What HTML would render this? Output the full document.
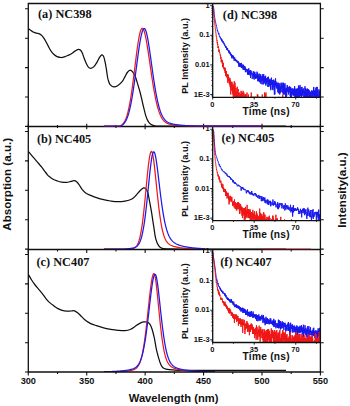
<!DOCTYPE html>
<html><head><meta charset="utf-8"><style>
html,body{margin:0;padding:0;background:#fff;width:350px;height:406px;overflow:hidden;}
svg{display:block;}
</style></head><body>
<svg width="350" height="406" viewBox="0 0 350 406">
<defs>
<clipPath id="clipd"><rect x="212.7" y="3.5" width="107.7" height="93.8"/></clipPath>
<clipPath id="clipe"><rect x="212.7" y="126.5" width="107.7" height="94.1"/></clipPath>
<clipPath id="clipf"><rect x="212.7" y="249.5" width="107.7" height="93"/></clipPath>
<clipPath id="cm0"><rect x="28.3" y="2.5" width="292.1" height="124"/></clipPath>
<clipPath id="cm1"><rect x="28.3" y="125.5" width="292.1" height="124"/></clipPath>
<clipPath id="cm2"><rect x="28.3" y="248.5" width="292.1" height="123.5"/></clipPath>
</defs>
<rect width="350" height="406" fill="#fff"/>
<g clip-path="url(#cm1)" fill="none" stroke-linejoin="round">
<path d="M28.3,151.4 C28.85,152.05 30.47,153.97 31.6,155.3 C32.73,156.63 33.92,158.03 35.1,159.4 C36.28,160.77 37.83,162.48 38.7,163.5 C39.57,164.52 39.67,164.72 40.3,165.5 C40.93,166.28 41.78,167.27 42.5,168.2 C43.22,169.13 43.88,170.13 44.6,171.1 C45.32,172.07 46.08,173.13 46.8,174 C47.52,174.87 47.85,175.42 48.9,176.3 C49.95,177.18 51.68,178.52 53.1,179.3 C54.52,180.08 55.97,180.53 57.4,181 C58.83,181.47 60.17,181.87 61.7,182.1 C63.23,182.33 65.07,182.52 66.6,182.4 C68.13,182.28 69.67,181.68 70.9,181.4 C72.13,181.12 73.05,180.65 74,180.7 C74.95,180.75 75.72,180.98 76.6,181.7 C77.48,182.42 78.38,183.73 79.3,185 C80.22,186.27 81.03,187.98 82.1,189.3 C83.17,190.62 84.27,191.88 85.7,192.9 C87.13,193.92 88.92,194.62 90.7,195.4 C92.48,196.18 94.25,196.88 96.4,197.6 C98.55,198.32 101.22,199.13 103.6,199.7 C105.98,200.27 108.32,200.67 110.7,201 C113.08,201.33 115.52,201.68 117.9,201.7 C120.28,201.72 122.75,201.5 125,201.1 C127.25,200.7 129.62,200.2 131.4,199.3 C133.18,198.4 134.27,197.13 135.7,195.7 C137.13,194.27 138.68,192 140,190.7 C141.32,189.4 142.65,188.25 143.6,187.9 C144.55,187.55 144.98,187.77 145.7,188.6 C146.42,189.43 147.3,191 147.9,192.9 C148.5,194.8 148.72,196.92 149.3,200 C149.88,203.08 150.68,207.12 151.4,211.4 C152.12,215.68 152.88,221.17 153.6,225.7 C154.32,230.23 154.87,235.27 155.7,238.6 C156.53,241.93 157.53,244.08 158.6,245.7 C159.67,247.32 160.53,247.77 162.1,248.3 C163.67,248.83 165.02,248.78 168,248.9 C170.98,249.02 160.33,248.98 180,249 C199.67,249.02 268.33,249 286,249" stroke="#111" stroke-width="1.25"/>
<path d="M104,249 L104.5,249 L105,249 L105.5,249 L106,249 L106.5,249 L107,249 L107.5,249 L108,249 L108.5,249 L109,249 L109.5,249 L110,249 L110.5,249 L111,249 L111.5,249 L112,249 L112.5,249 L113,249 L113.5,249 L114,249 L114.5,249 L115,249 L115.5,249 L116,249 L116.5,249 L117,249 L117.5,249 L118,249 L118.5,249 L119,249 L119.5,249 L120,249 L120.5,249 L121,249 L121.5,249 L122,249 L122.5,249 L123,249 L123.5,249 L124,249 L124.5,249 L125,249 L125.5,249 L126,249 L126.5,249 L127,249 L127.5,249 L128,249 L128.5,249 L129,249 L129.5,249 L130,249 L130.5,249 L131,248.97 L131.5,248.89 L132,248.79 L132.5,248.67 L133,248.53 L133.5,248.35 L134,248.13 L134.5,247.87 L135,247.54 L135.5,247.14 L136,246.64 L136.5,246.04 L137,245.32 L137.5,244.44 L138,243.39 L138.5,242.15 L139,240.68 L139.5,238.97 L140,236.99 L140.5,234.71 L141,232.12 L141.5,229.2 L142,225.95 L142.5,222.35 L143,218.41 L143.5,214.15 L144,209.6 L144.5,204.78 L145,199.75 L145.5,194.56 L146,189.29 L146.5,184 L147,178.8 L147.5,173.77 L148,169.02 L148.5,164.65 L149,160.75 L149.5,157.43 L150,154.77 L150.5,152.84 L151,151.71 L151.5,151.41 L152,152.01 L152.5,153.51 L153,155.86 L153.5,158.95 L154,162.65 L154.5,166.85 L155,171.4 L155.5,176.19 L156,181.11 L156.5,186.06 L157,190.97 L157.5,195.77 L158,200.4 L158.5,204.82 L159,209.01 L159.5,212.93 L160,216.57 L160.5,219.93 L161,223 L161.5,225.8 L162,228.31 L162.5,230.57 L163,232.58 L163.5,234.37 L164,235.94 L164.5,237.32 L165,238.54 L165.5,239.59 L166,240.52 L166.5,241.32 L167,242.02 L167.5,242.63 L168,243.17 L168.5,243.63 L169,244.05 L169.5,244.41 L170,244.74 L170.5,245.03 L171,245.29 L171.5,245.52 L172,245.74 L172.5,245.93 L173,246.12 L173.5,246.28 L174,246.44 L174.5,246.58 L175,246.72 L175.5,246.85 L176,246.97 L176.5,247.08 L177,247.18 L177.5,247.28 L178,247.38 L178.5,247.47 L179,247.56 L179.5,247.64 L180,247.71 L180.5,247.79 L181,247.86 L181.5,247.93 L182,247.99 L182.5,248.05 L183,248.11 L183.5,248.16 L184,248.22 L184.5,248.27 L185,248.32 L185.5,248.36 L186,248.41 L186.5,248.45 L187,248.49 L187.5,248.53 L188,248.57 L188.5,248.61 L189,248.64 L189.5,248.68 L190,248.71 L190.5,248.74 L191,248.77 L191.5,248.8 L192,248.83 L192.5,248.86 L193,248.88 L193.5,248.91 L194,248.93 L194.5,248.96 L195,248.98 L195.5,249 L196,249 L196.5,249 L197,249 L197.5,249 L198,249 L198.5,249 L199,249 L199.5,249 L200,249 L200.5,249 L201,249 L201.5,249 L202,249 L202.5,249 L203,249 L203.5,249 L204,249 L204.5,249 L205,249" stroke="#f01818" stroke-width="1.25"/>
<path d="M104,249 L104.5,249 L105,249 L105.5,249 L106,249 L106.5,249 L107,249 L107.5,249 L108,249 L108.5,249 L109,249 L109.5,249 L110,249 L110.5,249 L111,249 L111.5,249 L112,249 L112.5,249 L113,249 L113.5,249 L114,249 L114.5,249 L115,249 L115.5,249 L116,249 L116.5,249 L117,249 L117.5,249 L118,249 L118.5,249 L119,249 L119.5,249 L120,249 L120.5,249 L121,249 L121.5,249 L122,249 L122.5,249 L123,249 L123.5,249 L124,249 L124.5,249 L125,248.97 L125.5,248.94 L126,248.9 L126.5,248.86 L127,248.82 L127.5,248.78 L128,248.74 L128.5,248.69 L129,248.64 L129.5,248.58 L130,248.52 L130.5,248.46 L131,248.39 L131.5,248.31 L132,248.22 L132.5,248.12 L133,248.01 L133.5,247.89 L134,247.74 L134.5,247.57 L135,247.37 L135.5,247.14 L136,246.86 L136.5,246.53 L137,246.14 L137.5,245.67 L138,245.11 L138.5,244.45 L139,243.67 L139.5,242.75 L140,241.67 L140.5,240.41 L141,238.95 L141.5,237.27 L142,235.35 L142.5,233.16 L143,230.7 L143.5,227.95 L144,224.9 L144.5,221.54 L145,217.89 L145.5,213.95 L146,209.73 L146.5,205.27 L147,200.6 L147.5,195.77 L148,190.83 L148.5,185.84 L149,180.88 L149.5,176.02 L150,171.35 L150.5,166.97 L151,162.97 L151.5,159.45 L152,156.49 L152.5,154.19 L153,152.61 L153.5,151.8 L154,151.79 L154.5,152.53 L155,154 L155.5,156.13 L156,158.84 L156.5,162.04 L157,165.64 L157.5,169.53 L158,173.62 L158.5,177.84 L159,182.09 L159.5,186.34 L160,190.52 L160.5,194.59 L161,198.52 L161.5,202.29 L162,205.88 L162.5,209.27 L163,212.46 L163.5,215.44 L164,218.22 L164.5,220.79 L165,223.16 L165.5,225.34 L166,227.33 L166.5,229.15 L167,230.8 L167.5,232.29 L168,233.65 L168.5,234.87 L169,235.97 L169.5,236.96 L170,237.85 L170.5,238.65 L171,239.37 L171.5,240.02 L172,240.61 L172.5,241.14 L173,241.62 L173.5,242.05 L174,242.45 L174.5,242.82 L175,243.15 L175.5,243.46 L176,243.74 L176.5,244.01 L177,244.25 L177.5,244.48 L178,244.69 L178.5,244.89 L179,245.08 L179.5,245.26 L180,245.43 L180.5,245.59 L181,245.74 L181.5,245.88 L182,246.01 L182.5,246.14 L183,246.26 L183.5,246.38 L184,246.49 L184.5,246.6 L185,246.7 L185.5,246.8 L186,246.89 L186.5,246.98 L187,247.06 L187.5,247.15 L188,247.22 L188.5,247.3 L189,247.37 L189.5,247.44 L190,247.51 L190.5,247.57 L191,247.63 L191.5,247.69 L192,247.75 L192.5,247.81 L193,247.86 L193.5,247.91 L194,247.96 L194.5,248.01 L195,248.05 L195.5,248.1 L196,248.14 L196.5,248.18 L197,248.22 L197.5,248.26 L198,248.3 L198.5,248.34 L199,248.37 L199.5,248.41 L200,248.44 L200.5,248.47 L201,248.5 L201.5,248.53 L202,248.56 L202.5,248.59 L203,248.62 L203.5,248.64 L204,248.67 L204.5,248.69 L205,248.72" stroke="#1a1aee" stroke-width="1.25"/>
</g>
<g clip-path="url(#cm2)" fill="none" stroke-linejoin="round">
<path d="M28.3,274.3 C28.85,275.25 30.47,278.22 31.6,280 C32.73,281.78 33.92,283.45 35.1,285 C36.28,286.55 37.5,287.87 38.7,289.3 C39.9,290.73 41.1,292.05 42.3,293.6 C43.5,295.15 44.72,297.13 45.9,298.6 C47.08,300.07 48.1,301.22 49.4,302.4 C50.7,303.58 52.27,304.67 53.7,305.7 C55.13,306.73 56.57,307.82 58,308.6 C59.43,309.38 60.87,309.98 62.3,310.4 C63.73,310.82 65.17,311 66.6,311.1 C68.03,311.2 69.6,311.05 70.9,311 C72.2,310.95 73.23,310.48 74.4,310.8 C75.57,311.12 76.85,312.08 77.9,312.9 C78.95,313.72 79.75,314.75 80.7,315.7 C81.65,316.65 82.65,317.7 83.6,318.6 C84.55,319.5 85.22,320.27 86.4,321.1 C87.58,321.93 89.03,322.83 90.7,323.6 C92.37,324.37 94.25,324.98 96.4,325.7 C98.55,326.42 101.22,327.3 103.6,327.9 C105.98,328.5 108.32,328.9 110.7,329.3 C113.08,329.7 115.52,330.07 117.9,330.3 C120.28,330.53 122.87,330.87 125,330.7 C127.13,330.53 129.03,330.02 130.7,329.3 C132.37,328.58 133.57,327.35 135,326.4 C136.43,325.45 137.87,324.35 139.3,323.6 C140.73,322.85 142.3,322.15 143.6,321.9 C144.9,321.65 146.03,321.7 147.1,322.1 C148.17,322.5 149.17,323.1 150,324.3 C150.83,325.5 151.38,327.03 152.1,329.3 C152.82,331.57 153.58,334.57 154.3,337.9 C155.02,341.23 155.68,345.97 156.4,349.3 C157.12,352.63 157.88,355.4 158.6,357.9 C159.32,360.4 159.97,362.65 160.7,364.3 C161.43,365.95 162.12,367 163,367.8 C163.88,368.6 164.35,368.75 166,369.1 C167.65,369.45 168.9,369.7 172.9,369.9 C176.9,370.1 171.15,370.22 190,370.3 C208.85,370.38 270,370.38 286,370.4" stroke="#111" stroke-width="1.25"/>
<path d="M104,371.5 L104.5,371.5 L105,371.5 L105.5,371.5 L106,371.5 L106.5,371.5 L107,371.5 L107.5,371.5 L108,371.5 L108.5,371.5 L109,371.5 L109.5,371.5 L110,371.5 L110.5,371.5 L111,371.5 L111.5,371.5 L112,371.5 L112.5,371.5 L113,371.5 L113.5,371.5 L114,371.5 L114.5,371.5 L115,371.5 L115.5,371.5 L116,371.5 L116.5,371.5 L117,371.5 L117.5,371.5 L118,371.5 L118.5,371.5 L119,371.5 L119.5,371.5 L120,371.5 L120.5,371.5 L121,371.48 L121.5,371.45 L122,371.42 L122.5,371.38 L123,371.35 L123.5,371.31 L124,371.28 L124.5,371.24 L125,371.2 L125.5,371.15 L126,371.11 L126.5,371.06 L127,371.01 L127.5,370.95 L128,370.89 L128.5,370.83 L129,370.76 L129.5,370.69 L130,370.61 L130.5,370.53 L131,370.44 L131.5,370.33 L132,370.21 L132.5,370.08 L133,369.93 L133.5,369.76 L134,369.57 L134.5,369.34 L135,369.08 L135.5,368.77 L136,368.41 L136.5,367.99 L137,367.49 L137.5,366.91 L138,366.23 L138.5,365.44 L139,364.52 L139.5,363.45 L140,362.22 L140.5,360.81 L141,359.2 L141.5,357.38 L142,355.32 L142.5,353.02 L143,350.46 L143.5,347.64 L144,344.54 L144.5,341.18 L145,337.55 L145.5,333.68 L146,329.57 L146.5,325.25 L147,320.76 L147.5,316.14 L148,311.44 L148.5,306.7 L149,302 L149.5,297.4 L150,292.98 L150.5,288.82 L151,285 L151.5,281.61 L152,278.73 L152.5,276.43 L153,274.78 L153.5,273.84 L154,273.62 L154.5,274.35 L155,276.09 L155.5,278.75 L156,282.2 L156.5,286.29 L157,290.86 L157.5,295.77 L158,300.88 L158.5,306.07 L159,311.24 L159.5,316.31 L160,321.2 L160.5,325.88 L161,330.3 L161.5,334.43 L162,338.26 L162.5,341.77 L163,344.98 L163.5,347.88 L164,350.49 L164.5,352.81 L165,354.88 L165.5,356.7 L166,358.3 L166.5,359.69 L167,360.91 L167.5,361.98 L168,362.9 L168.5,363.7 L169,364.4 L169.5,365.01 L170,365.54 L170.5,366.01 L171,366.42 L171.5,366.78 L172,367.11 L172.5,367.4 L173,367.67 L173.5,367.91 L174,368.13 L174.5,368.33 L175,368.52 L175.5,368.69 L176,368.85 L176.5,369 L177,369.14 L177.5,369.28 L178,369.4 L178.5,369.52 L179,369.63 L179.5,369.73 L180,369.83 L180.5,369.93 L181,370.01 L181.5,370.1 L182,370.18 L182.5,370.26 L183,370.33 L183.5,370.4 L184,370.46 L184.5,370.53 L185,370.59 L185.5,370.64 L186,370.7 L186.5,370.75 L187,370.8 L187.5,370.85 L188,370.9 L188.5,370.94 L189,370.98 L189.5,371.02 L190,371.06 L190.5,371.1 L191,371.14 L191.5,371.17 L192,371.2 L192.5,371.24 L193,371.27 L193.5,371.3 L194,371.33 L194.5,371.35 L195,371.38 L195.5,371.41 L196,371.43 L196.5,371.46 L197,371.48 L197.5,371.5 L198,371.5 L198.5,371.5 L199,371.5 L199.5,371.5 L200,371.5 L200.5,371.5 L201,371.5 L201.5,371.5 L202,371.5 L202.5,371.5 L203,371.5 L203.5,371.5 L204,371.5 L204.5,371.5 L205,371.5 L205.5,371.5 L206,371.5 L206.5,371.5 L207,371.5 L207.5,371.5 L208,371.5 L208.5,371.5 L209,371.5 L209.5,371.5 L210,371.5 L210.5,371.5 L211,371.5 L211.5,371.5 L212,371.5 L212.5,371.5 L213,371.5 L213.5,371.5 L214,371.5 L214.5,371.5 L215,371.5" stroke="#f01818" stroke-width="1.25"/>
<path d="M104,371.5 L104.5,371.5 L105,371.5 L105.5,371.5 L106,371.5 L106.5,371.5 L107,371.5 L107.5,371.5 L108,371.5 L108.5,371.5 L109,371.5 L109.5,371.5 L110,371.5 L110.5,371.5 L111,371.5 L111.5,371.5 L112,371.5 L112.5,371.47 L113,371.45 L113.5,371.43 L114,371.4 L114.5,371.38 L115,371.35 L115.5,371.32 L116,371.29 L116.5,371.26 L117,371.23 L117.5,371.2 L118,371.17 L118.5,371.13 L119,371.1 L119.5,371.06 L120,371.02 L120.5,370.98 L121,370.94 L121.5,370.89 L122,370.85 L122.5,370.8 L123,370.75 L123.5,370.69 L124,370.64 L124.5,370.58 L125,370.52 L125.5,370.46 L126,370.39 L126.5,370.32 L127,370.25 L127.5,370.17 L128,370.09 L128.5,370 L129,369.91 L129.5,369.81 L130,369.7 L130.5,369.59 L131,369.46 L131.5,369.33 L132,369.18 L132.5,369.02 L133,368.84 L133.5,368.64 L134,368.42 L134.5,368.17 L135,367.89 L135.5,367.57 L136,367.21 L136.5,366.79 L137,366.32 L137.5,365.78 L138,365.16 L138.5,364.45 L139,363.65 L139.5,362.73 L140,361.68 L140.5,360.5 L141,359.16 L141.5,357.65 L142,355.97 L142.5,354.09 L143,352.01 L143.5,349.71 L144,347.19 L144.5,344.45 L145,341.48 L145.5,338.28 L146,334.86 L146.5,331.23 L147,327.41 L147.5,323.41 L148,319.27 L148.5,315.01 L149,310.67 L149.5,306.3 L150,301.95 L150.5,297.67 L151,293.54 L151.5,289.62 L152,285.98 L152.5,282.72 L153,279.89 L153.5,277.57 L154,275.84 L154.5,274.74 L155,274.31 L155.5,274.62 L156,275.76 L156.5,277.7 L157,280.34 L157.5,283.59 L158,287.34 L158.5,291.46 L159,295.87 L159.5,300.44 L160,305.09 L160.5,309.75 L161,314.34 L161.5,318.83 L162,323.15 L162.5,327.28 L163,331.2 L163.5,334.88 L164,338.32 L164.5,341.51 L165,344.44 L165.5,347.12 L166,349.56 L166.5,351.76 L167,353.75 L167.5,355.53 L168,357.11 L168.5,358.52 L169,359.77 L169.5,360.87 L170,361.85 L170.5,362.7 L171,363.46 L171.5,364.12 L172,364.71 L172.5,365.23 L173,365.69 L173.5,366.1 L174,366.47 L174.5,366.8 L175,367.09 L175.5,367.36 L176,367.61 L176.5,367.83 L177,368.04 L177.5,368.23 L178,368.4 L178.5,368.57 L179,368.72 L179.5,368.87 L180,369 L180.5,369.13 L181,369.25 L181.5,369.37 L182,369.47 L182.5,369.58 L183,369.67 L183.5,369.77 L184,369.85 L184.5,369.94 L185,370.02 L185.5,370.09 L186,370.17 L186.5,370.24 L187,370.3 L187.5,370.37 L188,370.43 L188.5,370.49 L189,370.54 L189.5,370.6 L190,370.65 L190.5,370.7 L191,370.75 L191.5,370.79 L192,370.83 L192.5,370.88 L193,370.92 L193.5,370.96 L194,370.99 L194.5,371.03 L195,371.07 L195.5,371.1 L196,371.13 L196.5,371.16 L197,371.19 L197.5,371.22 L198,371.25 L198.5,371.28 L199,371.31 L199.5,371.33 L200,371.36 L200.5,371.38 L201,371.4 L201.5,371.43 L202,371.45 L202.5,371.47 L203,371.49 L203.5,371.5 L204,371.5 L204.5,371.5 L205,371.5 L205.5,371.5 L206,371.5 L206.5,371.5 L207,371.5 L207.5,371.5 L208,371.5 L208.5,371.5 L209,371.5 L209.5,371.5 L210,371.5 L210.5,371.5 L211,371.5 L211.5,371.5 L212,371.5 L212.5,371.5 L213,371.5 L213.5,371.5 L214,371.5 L214.5,371.5 L215,371.5" stroke="#1a1aee" stroke-width="1.25"/>
</g>
<g clip-path="url(#cm0)" fill="none"><path d="M28.3,28.6 C28.63,28.85 29.5,29.53 30.3,30.1 C31.1,30.67 32.05,31.5 33.1,32 C34.15,32.5 35.55,32.78 36.6,33.1 C37.65,33.42 38.55,33.52 39.4,33.9 C40.25,34.28 40.93,34.67 41.7,35.4 C42.47,36.13 43.23,37.15 44,38.3 C44.77,39.45 45.53,40.87 46.3,42.3 C47.07,43.73 47.83,45.47 48.6,46.9 C49.37,48.33 50.05,49.67 50.9,50.9 C51.75,52.13 52.67,53.35 53.7,54.3 C54.73,55.25 55.87,56.07 57.1,56.6 C58.33,57.13 59.85,57.47 61.1,57.5 C62.35,57.53 63.45,57.15 64.6,56.8 C65.75,56.45 66.87,55.92 68,55.4 C69.13,54.88 70.25,54.42 71.4,53.7 C72.55,52.98 73.75,51.82 74.9,51.1 C76.05,50.38 77.35,49.53 78.3,49.4 C79.25,49.27 79.93,49.68 80.6,50.3 C81.27,50.92 81.73,51.87 82.3,53.1 C82.87,54.33 83.33,55.98 84,57.7 C84.67,59.42 85.53,61.78 86.3,63.4 C87.07,65.02 87.83,66.58 88.6,67.4 C89.37,68.22 90.05,68.38 90.9,68.3 C91.75,68.22 92.75,67.8 93.7,66.9 C94.65,66 95.65,64.43 96.6,62.9 C97.55,61.37 98.55,59.03 99.4,57.7 C100.25,56.37 101.03,55.18 101.7,54.9 C102.37,54.62 102.88,55.05 103.4,56 C103.92,56.95 104.32,58.5 104.8,60.6 C105.28,62.7 105.83,65.78 106.3,68.6 C106.77,71.42 107.22,75.4 107.6,77.5 C107.98,79.6 108.18,80.02 108.6,81.2 C109.02,82.38 109.27,83.65 110.1,84.6 C110.93,85.55 112.35,86.72 113.6,86.9 C114.85,87.08 116.18,86.57 117.6,85.7 C119.02,84.83 120.87,83.22 122.1,81.7 C123.33,80.18 124.13,78.13 125,76.6 C125.87,75.07 126.45,73.57 127.3,72.5 C128.15,71.43 129.15,70.23 130.1,70.2 C131.05,70.17 132.13,71.23 133,72.3 C133.87,73.37 134.5,74.57 135.3,76.6 C136.1,78.63 137.02,81.93 137.8,84.5 C138.58,87.07 139.37,89.67 140,92 C140.63,94.33 141.05,96.17 141.6,98.5 C142.15,100.83 142.63,103.23 143.3,106 C143.97,108.77 144.83,112.62 145.6,115.1 C146.37,117.58 147.05,119.37 147.9,120.9 C148.75,122.43 149.57,123.48 150.7,124.3 C151.83,125.12 153.15,125.5 154.7,125.8 C156.25,126.1 157.45,126.05 160,126.1 C162.55,126.15 149,126.1 170,126.1 C191,126.1 266.67,126.1 286,126.1" stroke="#111" stroke-width="1.25"/></g>
<rect x="212.7" y="4.1" width="107.1" height="93.2" fill="#fff"/>
<g clip-path="url(#clipd)" fill="none" stroke-width="1" stroke-linejoin="round">
<path d="M212.7,5.7 L212.82,5.73 L212.94,5.83 L213.06,5.98 L213.17,6.17 L213.29,6.38 L213.41,6.63 L213.53,7.06 L213.65,7.76 L213.77,8.67 L213.89,9.73 L214,10.92 L214.12,12.16 L214.24,13.42 L214.36,14.65 L214.48,15.8 L214.6,16.81 L214.72,17.65 L214.83,18.37 L214.95,19.03 L215.07,19.66 L215.19,20.26 L215.31,20.85 L215.43,21.44 L215.55,22.01 L215.66,22.57 L215.78,23.12 L215.9,23.66 L216.02,24.19 L216.14,24.71 L216.26,24.87 L216.38,26.1 L216.5,26.19 L216.61,26.71 L216.73,26.85 L216.85,27.71 L216.97,28.35 L217.09,28.8 L217.21,29.43 L217.33,30.79 L217.44,30.26 L217.56,30.19 L217.68,30.97 L217.8,31.6 L217.92,31.47 L218.04,32.26 L218.16,32.19 L218.27,32.61 L218.39,33.54 L218.51,33.89 L218.63,32.98 L218.75,34.29 L218.87,33.51 L218.99,34.65 L219.1,34.66 L219.22,35.31 L219.34,35.6 L219.46,36.55 L219.58,35.99 L219.7,36.58 L219.82,36.29 L219.93,36.58 L220.05,37.21 L220.17,37.65 L220.29,36.96 L220.41,37.54 L220.53,37.77 L220.65,38.15 L220.76,38.15 L220.88,39.49 L221,38.36 L221.12,38.61 L221.24,38.38 L221.36,38.69 L221.48,38.74 L221.59,41.3 L221.71,40.26 L221.83,40.58 L221.95,40.82 L222.07,39.51 L222.19,40.14 L222.31,40.66 L222.43,40.9 L222.54,40.6 L222.66,41.63 L222.78,42.35 L222.9,41.28 L223.02,41.32 L223.14,42.87 L223.26,41.65 L223.37,42.46 L223.49,42.59 L223.61,42.71 L223.73,42.59 L223.85,43.66 L223.97,42.87 L224.09,44.42 L224.2,43.73 L224.32,44.06 L224.44,44.58 L224.56,44.66 L224.68,45.68 L224.8,45.77 L224.92,44.55 L225.03,45.59 L225.15,46.12 L225.27,46.09 L225.39,47.08 L225.51,46.03 L225.63,47.54 L225.75,47.4 L225.86,47.64 L225.98,46 L226.1,47.54 L226.22,47.14 L226.34,47.67 L226.46,48.01 L226.58,49.02 L226.69,47.57 L226.81,48.01 L226.93,49.95 L227.05,48.22 L227.17,49.44 L227.29,48.61 L227.41,50.31 L227.52,48.87 L227.64,48.36 L227.76,49.32 L227.88,49.83 L228,49.75 L228.12,50.03 L228.24,50.95 L228.36,50.78 L228.47,50.95 L228.59,51.53 L228.71,50.19 L228.83,52.62 L228.95,51.3 L229.07,50.69 L229.19,53.28 L229.3,52.18 L229.42,51.9 L229.54,51.39 L229.66,52.18 L229.78,53.07 L229.9,53.65 L230.02,52.82 L230.13,52.37 L230.25,54.31 L230.37,54.53 L230.49,55.18 L230.61,53.12 L230.73,55.18 L230.85,55.06 L230.96,55.18 L231.08,54.42 L231.2,55.18 L231.32,53.97 L231.44,56.38 L231.56,56.18 L231.68,55.55 L231.79,58.23 L231.91,55.55 L232.03,56.72 L232.15,54.94 L232.27,55.3 L232.39,55.86 L232.51,56.05 L232.62,57.27 L232.74,56.12 L232.86,55.49 L232.98,57.63 L233.1,58.46 L233.22,57.27 L233.34,58.23 L233.45,57.2 L233.57,55.86 L233.69,58.31 L233.81,57.13 L233.93,57.85 L234.05,58.31 L234.17,60.76 L234.29,58.86 L234.4,58.23 L234.52,58.31 L234.64,59.02 L234.76,57.49 L234.88,59.6 L235,59.43 L235.12,59.43 L235.23,60.95 L235.35,61.14 L235.47,59.35 L235.59,60.12 L235.71,60.57 L235.83,59.43 L235.95,60.21 L236.06,60.67 L236.18,60.12 L236.3,61.23 L236.42,61.23 L236.54,60.21 L236.66,60.21 L236.78,61.73 L236.89,60.39 L237.01,61.63 L237.13,61.33 L237.25,62.34 L237.37,62.99 L237.49,62.88 L237.61,62.88 L237.72,62.99 L237.84,61.14 L237.96,62.13 L238.08,61.43 L238.2,62.99 L238.32,63.44 L238.44,62.03 L238.55,62.34 L238.67,63.91 L238.79,64.77 L238.91,62.99 L239.03,66.69 L239.15,62.66 L239.27,66.84 L239.38,65.16 L239.5,64.77 L239.62,65.29 L239.74,64.4 L239.86,65.42 L239.98,65.7 L240.1,65.03 L240.22,64.15 L240.33,66.84 L240.45,64.03 L240.57,63.1 L240.69,64.9 L240.81,64.4 L240.93,66.54 L241.05,65.7 L241.16,65.97 L241.28,67.61 L241.4,67.45 L241.52,62.88 L241.64,67.61 L241.76,66.4 L241.88,66.54 L241.99,67.45 L242.11,68.09 L242.23,66.99 L242.35,65.42 L242.47,64.65 L242.59,66.25 L242.71,66.4 L242.82,65.97 L242.94,69.49 L243.06,66.84 L243.18,66.69 L243.3,64.65 L243.42,68.43 L243.54,66.99 L243.65,66.25 L243.77,68.6 L243.89,70.05 L244.01,68.95 L244.13,65.83 L244.25,66.25 L244.37,66.69 L244.48,69.67 L244.6,67.3 L244.72,70.05 L244.84,66.11 L244.96,67.93 L245.08,67.45 L245.2,68.95 L245.31,68.95 L245.43,72.13 L245.55,68.09 L245.67,70.24 L245.79,69.67 L245.91,70.64 L246.03,69.12 L246.15,70.44 L246.26,68.95 L246.38,68.95 L246.5,68.95 L246.62,70.24 L246.74,70.44 L246.86,71.25 L246.98,71.9 L247.09,72.35 L247.21,70.84 L247.33,71.9 L247.45,70.64 L247.57,71.05 L247.69,74.61 L247.81,69.12 L247.92,71.68 L248.04,74.61 L248.16,69.67 L248.28,71.68 L248.4,72.35 L248.52,72.13 L248.64,74.88 L248.75,68.26 L248.87,71.05 L248.99,71.47 L249.11,71.47 L249.23,71.68 L249.35,71.68 L249.47,74.34 L249.58,70.64 L249.7,72.13 L249.82,72.82 L249.94,73.06 L250.06,71.68 L250.18,75.45 L250.3,70.05 L250.41,74.34 L250.53,78.03 L250.65,74.88 L250.77,70.24 L250.89,75.16 L251.01,73.06 L251.13,73.56 L251.25,74.07 L251.36,72.13 L251.48,71.9 L251.6,72.13 L251.72,71.47 L251.84,74.07 L251.96,73.81 L252.08,76.36 L252.19,78.77 L252.31,76.68 L252.43,74.88 L252.55,75.45 L252.67,75.16 L252.79,75.75 L252.91,73.06 L253.02,75.45 L253.14,76.05 L253.26,74.88 L253.38,71.47 L253.5,73.56 L253.62,73.81 L253.74,72.13 L253.85,78.4 L253.97,71.68 L254.09,72.13 L254.21,79.55 L254.33,75.45 L254.45,74.07 L254.57,73.56 L254.68,75.75 L254.8,71.9 L254.92,72.13 L255.04,76.36 L255.16,75.75 L255.28,76.36 L255.4,78.77 L255.51,74.34 L255.63,74.88 L255.75,77.68 L255.87,77.68 L255.99,74.61 L256.11,77.34 L256.23,78.4 L256.34,75.16 L256.46,77.68 L256.58,76.05 L256.7,77.34 L256.82,76.05 L256.94,75.45 L257.06,71.68 L257.17,78.4 L257.29,72.82 L257.41,76.68 L257.53,75.75 L257.65,78.03 L257.77,81.26 L257.89,78.03 L258.01,77.34 L258.12,75.75 L258.24,74.34 L258.36,80.81 L258.48,76.36 L258.6,78.4 L258.72,81.26 L258.84,76.36 L258.95,76.68 L259.07,79.15 L259.19,73.56 L259.31,76.68 L259.43,82.22 L259.55,76.36 L259.67,76.05 L259.78,80.38 L259.9,79.55 L260.02,78.4 L260.14,78.03 L260.26,78.4 L260.38,76.68 L260.5,79.15 L260.61,74.34 L260.73,82.22 L260.85,83.79 L260.97,78.4 L261.09,81.73 L261.21,79.15 L261.33,77.68 L261.44,78.03 L261.56,76.36 L261.68,77.34 L261.8,78.4 L261.92,79.15 L262.04,84.36 L262.16,79.55 L262.27,80.38 L262.39,74.34 L262.51,79.15 L262.63,80.38 L262.75,80.81 L262.87,80.38 L262.99,75.75 L263.11,77 L263.22,79.96 L263.34,84.36 L263.46,78.77 L263.58,77.34 L263.7,74.07 L263.82,78.77 L263.94,82.22 L264.05,81.26 L264.17,83.25 L264.29,76.36 L264.41,83.25 L264.53,79.55 L264.65,80.38 L264.77,78.77 L264.88,80.81 L265,77 L265.12,78.77 L265.24,77.34 L265.36,80.38 L265.48,79.15 L265.6,75.75 L265.71,83.79 L265.83,85.59 L265.95,79.96 L266.07,78.4 L266.19,84.36 L266.31,79.96 L266.43,78.03 L266.54,80.81 L266.66,80.38 L266.78,79.55 L266.9,81.73 L267.02,79.15 L267.14,80.38 L267.26,81.26 L267.37,81.73 L267.49,82.72 L267.61,82.22 L267.73,77 L267.85,86.94 L267.97,84.36 L268.09,83.25 L268.2,83.25 L268.32,76.68 L268.44,79.15 L268.56,83.79 L268.68,83.79 L268.8,86.94 L268.92,80.38 L269.03,85.59 L269.15,83.79 L269.27,80.38 L269.39,79.55 L269.51,79.55 L269.63,80.81 L269.75,84.36 L269.87,81.73 L269.98,78.77 L270.1,85.59 L270.22,80.38 L270.34,82.72 L270.46,81.73 L270.58,88.46 L270.7,79.96 L270.81,90.17 L270.93,84.36 L271.05,84.36 L271.17,81.73 L271.29,80.81 L271.41,77.68 L271.53,84.96 L271.64,82.72 L271.76,80.38 L271.88,83.79 L272,83.79 L272.12,84.36 L272.24,79.96 L272.36,87.68 L272.47,89.29 L272.59,79.96 L272.71,86.25 L272.83,85.59 L272.95,90.17 L273.07,86.25 L273.19,84.96 L273.3,82.22 L273.42,85.59 L273.54,82.72 L273.66,83.79 L273.78,79.55 L273.9,85.59 L274.02,87.68 L274.13,81.26 L274.25,83.25 L274.37,94.5 L274.49,84.96 L274.61,84.96 L274.73,83.79 L274.85,94.5 L274.96,81.26 L275.08,84.96 L275.2,80.38 L275.32,86.25 L275.44,83.25 L275.56,78.4 L275.68,83.25 L275.8,85.59 L275.91,83.79 L276.03,83.79 L276.15,86.25 L276.27,85.59 L276.39,88.46 L276.51,86.25 L276.63,86.94 L276.74,81.73 L276.86,85.59 L276.98,84.36 L277.1,84.96 L277.22,87.68 L277.34,88.46 L277.46,84.36 L277.57,83.25 L277.69,87.68 L277.81,92.16 L277.93,85.59 L278.05,86.94 L278.17,84.36 L278.29,84.36 L278.4,93.27 L278.52,82.72 L278.64,84.36 L278.76,84.96 L278.88,88.46 L279,86.25 L279.12,85.59 L279.23,87.68 L279.35,88.46 L279.47,87.68 L279.59,90.17 L279.71,94.5 L279.83,83.25 L279.95,93.27 L280.06,92.16 L280.18,86.94 L280.3,89.29 L280.42,88.46 L280.54,92.16 L280.66,87.68 L280.78,92.16 L280.89,86.25 L281.01,88.46 L281.13,82.72 L281.25,88.46 L281.37,85.59 L281.49,84.96 L281.61,86.25 L281.73,88.46 L281.84,88.46 L281.96,92.16 L282.08,88.46 L282.2,82.72 L282.32,86.94 L282.44,85.59 L282.56,84.96 L282.67,86.25 L282.79,90.17 L282.91,93.27 L283.03,89.29 L283.15,84.96 L283.27,92.16 L283.39,94.5 L283.5,82.72 L283.62,88.46 L283.74,89.29 L283.86,88.46 L283.98,91.13 L284.1,84.96 L284.22,89.29 L284.33,94.5 L284.45,90.17 L284.57,84.36 L284.69,93.27 L284.81,93.27 L284.93,83.25 L285.05,93.27 L285.16,87.68 L285.28,92.16 L285.4,89.29 L285.52,89.29 L285.64,97.37 L285.76,92.16 L285.88,93.27 L285.99,91.13 L286.11,90.17 L286.23,90.17 L286.35,97.37 L286.47,89.29 L286.59,88.46 L286.71,95.85 L286.82,92.16 L286.94,87.68 L287.06,92.16 L287.18,84.96 L287.3,91.13 L287.42,88.46 L287.54,91.13 L287.66,86.25 L287.77,91.13 L287.89,88.46 L288.01,91.13 L288.13,88.46 L288.25,90.17 L288.37,90.17 L288.49,93.27 L288.6,94.5 L288.72,91.13 L288.84,92.16 L288.96,86.94 L289.08,91.13 L289.2,90.17 L289.32,86.94 L289.43,92.16 L289.55,86.25 L289.67,89.29 L289.79,91.13 L289.91,91.13 L290.03,91.13 L290.15,95.85 L290.26,92.16 L290.38,89.29 L290.5,92.16 L290.62,86.94 L290.74,99.09 L290.86,93.27 L290.98,89.29 L291.09,88.46 L291.21,95.85 L291.33,92.16 L291.45,101.07 L291.57,92.16 L291.69,92.16 L291.81,92.16 L291.92,91.13 L292.04,88.46 L292.16,92.16 L292.28,89.29 L292.4,89.29 L292.52,94.5 L292.64,92.16 L292.75,90.17 L292.87,88.46 L292.99,90.17 L293.11,94.5 L293.23,95.85 L293.35,93.27 L293.47,91.13 L293.59,94.5 L293.7,89.29 L293.82,91.13 L293.94,92.16 L294.06,91.13 L294.18,94.5 L294.3,88.46 L294.42,95.85 L294.53,91.13 L294.65,86.25 L294.77,93.27 L294.89,97.37 L295.01,89.29 L295.13,90.17 L295.25,95.85 L295.36,90.17 L295.48,93.27 L295.6,95.85 L295.72,93.27 L295.84,97.37 L295.96,97.37 L296.08,88.46 L296.19,101.07 L296.31,92.16 L296.43,89.29 L296.55,92.16 L296.67,93.27 L296.79,97.37 L296.91,95.85 L297.02,89.29 L297.14,97.37 L297.26,94.5 L297.38,94.5 L297.5,88.46 L297.62,93.27 L297.74,103.3 L297.85,91.13 L297.97,93.27 L298.09,101.07 L298.21,97.37 L298.33,93.27 L298.45,85.59 L298.57,94.5 L298.69,91.13 L298.8,95.85 L298.92,86.94 L299.04,94.5 L299.16,86.94 L299.28,101.07 L299.4,91.13 L299.52,92.16 L299.63,87.68 L299.75,97.37 L299.87,97.37 L299.99,84.96 L300.11,95.85 L300.23,89.29 L300.35,92.16 L300.46,91.13 L300.58,94.5 L300.7,95.85 L300.82,94.5 L300.94,93.27 L301.06,95.85 L301.18,86.94 L301.29,90.17 L301.41,91.13 L301.53,95.85 L301.65,97.37 L301.77,94.5 L301.89,90.17 L302.01,86.94 L302.12,95.85 L302.24,95.85 L302.36,89.29 L302.48,93.27 L302.6,94.5 L302.72,92.16 L302.84,93.27 L302.95,93.27 L303.07,93.27 L303.19,90.17 L303.31,93.27 L303.43,90.17 L303.55,88.46 L303.67,95.85 L303.78,95.85 L303.9,97.37 L304.02,101.07 L304.14,94.5 L304.26,97.37 L304.38,91.13 L304.5,92.16 L304.62,93.27 L304.73,97.37 L304.85,91.13 L304.97,86.25 L305.09,97.37 L305.21,90.17 L305.33,88.46 L305.45,93.27 L305.56,88.46 L305.68,92.16 L305.8,93.27 L305.92,94.5 L306.04,97.37 L306.16,90.17 L306.28,97.37 L306.39,90.17 L306.51,90.17 L306.63,97.37 L306.75,89.29 L306.87,91.13 L306.99,95.85 L307.11,89.29 L307.22,88.46 L307.34,99.09 L307.46,97.37 L307.58,94.5 L307.7,101.07 L307.82,89.29 L307.94,95.85 L308.05,99.09 L308.17,99.09 L308.29,95.85 L308.41,94.5 L308.53,89.29 L308.65,89.29 L308.77,91.13 L308.88,93.27 L309,91.13 L309.12,90.17 L309.24,99.09 L309.36,93.27 L309.48,91.13 L309.6,101.07 L309.71,99.09 L309.83,93.27 L309.95,92.16 L310.07,95.85 L310.19,99.09 L310.31,93.27 L310.43,95.85 L310.54,93.27 L310.66,92.16 L310.78,93.27 L310.9,103.3 L311.02,94.5 L311.14,91.13 L311.26,97.37 L311.38,99.09 L311.49,95.85 L311.61,95.85 L311.73,99.09 L311.85,90.17 L311.97,91.13 L312.09,92.16 L312.21,97.37 L312.32,99.09 L312.44,103.3 L312.56,91.13 L312.68,95.85 L312.8,92.16 L312.92,94.5 L313.04,93.27 L313.15,92.16 L313.27,94.5 L313.39,94.5 L313.51,87.68 L313.63,93.27 L313.75,86.94 L313.87,99.09 L313.98,101.07 L314.1,90.17 L314.22,97.37 L314.34,94.5 L314.46,91.13 L314.58,97.37 L314.7,97.37 L314.81,101.07 L314.93,94.5 L315.05,94.5 L315.17,95.85 L315.29,101.07 L315.41,90.17 L315.53,97.37 L315.64,94.5 L315.76,93.27 L315.88,101.07 L316,87.68 L316.12,95.85 L316.24,87.68 L316.36,97.37 L316.47,92.16 L316.59,86.94 L316.71,99.09 L316.83,95.85 L316.95,92.16 L317.07,92.16 L317.19,86.94 L317.31,92.16 L317.42,103.3 L317.54,93.27 L317.66,93.27 L317.78,90.17 L317.9,92.16 L318.02,94.5 L318.14,94.5 L318.25,97.37 L318.37,99.09 L318.49,101.07 L318.61,97.37 L318.73,95.85 L318.85,95.85 L318.97,89.29 L319.08,103.3 L319.2,94.5 L319.32,93.27 L319.44,92.16 L319.56,91.13 L319.68,103.3 L319.8,99.09 L319.91,91.13 L320.03,92.16 L320.15,101.07 L320.27,94.5 L320.39,103.3 L320.51,99.09" stroke="#1a1aee"/>
<path d="M212.7,5.7 L212.82,6.66 L212.94,7.62 L213.06,8.59 L213.17,9.57 L213.29,10.56 L213.41,11.56 L213.53,12.58 L213.65,13.62 L213.77,14.67 L213.89,15.73 L214,16.8 L214.12,17.88 L214.24,18.95 L214.36,20.02 L214.48,21.08 L214.6,22.13 L214.72,23.17 L214.83,24.18 L214.95,25.18 L215.07,26.19 L215.19,27.2 L215.31,28.2 L215.43,29.2 L215.55,30.18 L215.66,31.16 L215.78,32.11 L215.9,33.04 L216.02,33.95 L216.14,34.82 L216.26,36.92 L216.38,37.02 L216.5,36.7 L216.61,37.31 L216.73,39.17 L216.85,40.71 L216.97,40.26 L217.09,40.26 L217.21,43.22 L217.33,41.97 L217.44,43.26 L217.56,44.78 L217.68,43.87 L217.8,44.38 L217.92,46.45 L218.04,47.91 L218.16,46.71 L218.27,47.97 L218.39,46.45 L218.51,47.97 L218.63,48.43 L218.75,49.62 L218.87,51.66 L218.99,49.42 L219.1,51.82 L219.22,50.78 L219.34,51.9 L219.46,52.05 L219.58,52.87 L219.7,52.45 L219.82,52.7 L219.93,53.29 L220.05,55.36 L220.17,55.16 L220.29,55.06 L220.41,54.76 L220.53,54.76 L220.65,58.08 L220.76,58.86 L220.88,58.46 L221,56.99 L221.12,59.13 L221.24,62.2 L221.36,59.55 L221.48,59.83 L221.59,59.41 L221.71,59.27 L221.83,61.36 L221.95,60.88 L222.07,61.69 L222.19,63.48 L222.31,59.98 L222.43,60.42 L222.54,62.74 L222.66,66.99 L222.78,65.56 L222.9,65.12 L223.02,64.27 L223.14,67.5 L223.26,63.67 L223.37,62.74 L223.49,67.24 L223.61,67.24 L223.73,67.77 L223.85,69.18 L223.97,68.6 L224.09,68.89 L224.2,67.24 L224.32,69.79 L224.44,70.44 L224.56,68.6 L224.68,70.77 L224.8,70.44 L224.92,70.44 L225.03,71.47 L225.15,72.98 L225.27,67.77 L225.39,72.59 L225.51,71.83 L225.63,76.15 L225.75,70.77 L225.86,73.39 L225.98,74.7 L226.1,71.47 L226.22,74.25 L226.34,71.11 L226.46,75.65 L226.58,77.23 L226.69,75.16 L226.81,74.7 L226.93,77.23 L227.05,77.23 L227.17,74.7 L227.29,74.7 L227.41,76.68 L227.52,79.68 L227.64,74.25 L227.76,82.72 L227.88,77.8 L228,79.68 L228.12,76.15 L228.24,74.7 L228.36,79.02 L228.47,79.02 L228.59,79.02 L228.71,78.4 L228.83,81.11 L228.95,79.68 L229.07,81.11 L229.19,83.61 L229.3,77.8 L229.42,82.72 L229.54,83.61 L229.66,77.8 L229.78,84.56 L229.9,78.4 L230.02,79.68 L230.13,86.71 L230.25,80.38 L230.37,87.93 L230.49,89.29 L230.61,84.56 L230.73,94.5 L230.85,90.8 L230.96,86.71 L231.08,81.89 L231.2,86.71 L231.32,87.93 L231.44,82.72 L231.56,81.89 L231.68,84.56 L231.79,90.8 L231.91,81.89 L232.03,83.61 L232.15,84.56 L232.27,85.59 L232.39,83.61 L232.51,86.71 L232.62,92.52 L232.74,87.93 L232.86,86.71 L232.98,94.5 L233.1,84.56 L233.22,96.84 L233.34,90.8 L233.45,86.71 L233.57,87.93 L233.69,92.52 L233.81,94.5 L233.93,86.71 L234.05,86.71 L234.17,85.59 L234.29,81.11 L234.4,96.84 L234.52,92.52 L234.64,85.59 L234.76,92.52 L234.88,96.84 L235,82.72 L235.12,90.8 L235.23,92.52 L235.35,92.52 L235.47,90.8 L235.59,92.52 L235.71,94.5 L235.83,96.84 L235.95,99.71 L236.06,87.93 L236.18,96.84 L236.3,92.52 L236.42,99.71 L236.54,103.3 L236.66,103.3 L236.78,94.5 L236.89,96.84 L237.01,92.52 L237.13,94.5 L237.25,86.71 L237.37,103.3 L237.49,94.5 L237.61,99.71 L237.72,92.52 L237.84,89.29 L237.96,89.29 L238.08,90.8 L238.2,89.29 L238.32,94.5 L238.44,99.71 L238.55,99.71 L238.67,96.84 L238.79,92.52 L238.91,94.5 L239.03,92.52 L239.15,92.52 L239.27,99.71 L239.38,94.5 L239.5,96.84 L239.62,103.3 L239.74,103.3 L239.86,96.84 L239.98,99.71 L240.1,103.3 L240.22,94.5 L240.33,96.84 L240.45,96.84 L240.57,94.5 L240.69,103.3 L240.81,94.5 L240.93,96.84 L241.05,90.8 L241.16,94.5 L241.28,103.3 L241.4,92.52 L241.52,103.3 L241.64,103.3 L241.76,99.71 L241.88,103.3 L241.99,94.5 L242.11,99.71 L242.23,92.52 L242.35,96.84 L242.47,99.71 L242.59,99.71 L242.71,99.71 L242.82,103.3 L242.94,103.3 L243.06,90.8 L243.18,103.3 L243.3,103.3 L243.42,99.71 L243.54,99.71 L243.65,103.3 L243.77,99.71 L243.89,92.52 L244.01,103.3 L244.13,103.3 L244.25,103.3 L244.37,99.71 L244.48,96.84 L244.6,103.3 L244.72,103.3 L244.84,94.5 L244.96,103.3 L245.08,103.3 L245.2,96.84 L245.31,99.71 L245.43,103.3 L245.55,94.5 L245.67,99.71 L245.79,94.5 L245.91,99.71 L246.03,103.3 L246.15,96.84 L246.26,99.71 L246.38,99.71 L246.5,96.84 L246.62,103.3 L246.74,99.71 L246.86,103.3 L246.98,92.52 L247.09,103.3 L247.21,103.3 L247.33,103.3 L247.45,99.71 L247.57,99.71 L247.69,103.3 L247.81,103.3 L247.92,99.71 L248.04,103.3 L248.16,99.71 L248.28,103.3 L248.4,94.5 L248.52,99.71 L248.64,99.71 L248.75,103.3 L248.87,103.3 L248.99,103.3 L249.11,103.3 L249.23,103.3 L249.35,99.71 L249.47,103.3 L249.58,103.3 L249.7,103.3 L249.82,103.3 L249.94,99.71 L250.06,99.71 L250.18,103.3 L250.3,96.84 L250.41,96.84 L250.53,103.3 L250.65,99.71 L250.77,103.3 L250.89,103.3 L251.01,103.3 L251.13,103.3 L251.25,92.52 L251.36,103.3 L251.48,103.3 L251.6,103.3 L251.72,103.3 L251.84,103.3 L251.96,99.71 L252.08,103.3 L252.19,103.3 L252.31,96.84 L252.43,103.3 L252.55,103.3 L252.67,99.71 L252.79,99.71 L252.91,103.3 L253.02,103.3 L253.14,96.84 L253.26,99.71 L253.38,99.71 L253.5,103.3 L253.62,103.3 L253.74,103.3 L253.85,96.84 L253.97,103.3 L254.09,103.3 L254.21,96.84 L254.33,103.3 L254.45,99.71 L254.57,103.3 L254.68,99.71 L254.8,103.3 L254.92,103.3 L255.04,99.71 L255.16,103.3 L255.28,103.3 L255.4,96.84 L255.51,96.84 L255.63,99.71 L255.75,103.3 L255.87,96.84 L255.99,103.3 L256.11,103.3 L256.23,99.71 L256.34,99.71 L256.46,103.3 L256.58,103.3 L256.7,103.3 L256.82,103.3 L256.94,99.71 L257.06,103.3 L257.17,103.3 L257.29,94.5 L257.41,103.3 L257.53,103.3 L257.65,103.3 L257.77,94.5 L257.89,103.3 L258.01,103.3 L258.12,103.3 L258.24,99.71 L258.36,103.3 L258.48,103.3 L258.6,103.3 L258.72,96.84 L258.84,103.3 L258.95,103.3 L259.07,103.3 L259.19,103.3 L259.31,103.3 L259.43,103.3 L259.55,103.3 L259.67,103.3 L259.78,96.84 L259.9,103.3 L260.02,103.3 L260.14,103.3 L260.26,99.71 L260.38,103.3 L260.5,103.3 L260.61,103.3 L260.73,103.3 L260.85,103.3 L260.97,103.3 L261.09,103.3 L261.21,103.3 L261.33,103.3 L261.44,103.3 L261.56,103.3 L261.68,103.3 L261.8,99.71 L261.92,103.3 L262.04,103.3 L262.16,103.3 L262.27,94.5 L262.39,103.3 L262.51,103.3 L262.63,103.3 L262.75,103.3 L262.87,103.3 L262.99,103.3 L263.11,99.71 L263.22,103.3 L263.34,103.3 L263.46,99.71 L263.58,103.3 L263.7,103.3 L263.82,99.71 L263.94,103.3 L264.05,103.3 L264.17,96.84 L264.29,96.84 L264.41,103.3 L264.53,92.52 L264.65,103.3 L264.77,103.3 L264.88,99.71 L265,103.3 L265.12,99.71 L265.24,94.5 L265.36,99.71 L265.48,99.71 L265.6,103.3 L265.71,103.3 L265.83,103.3 L265.95,92.52 L266.07,103.3 L266.19,103.3 L266.31,103.3 L266.43,103.3 L266.54,103.3 L266.66,103.3 L266.78,103.3 L266.9,103.3 L267.02,103.3 L267.14,103.3 L267.26,103.3 L267.37,99.71 L267.49,103.3 L267.61,103.3 L267.73,103.3 L267.85,103.3 L267.97,103.3 L268.09,103.3 L268.2,103.3 L268.32,103.3 L268.44,103.3 L268.56,103.3 L268.68,103.3 L268.8,103.3 L268.92,103.3 L269.03,103.3 L269.15,103.3 L269.27,103.3 L269.39,103.3 L269.51,103.3 L269.63,103.3 L269.75,103.3 L269.87,103.3 L269.98,103.3 L270.1,103.3 L270.22,103.3 L270.34,103.3 L270.46,103.3 L270.58,103.3 L270.7,103.3 L270.81,103.3 L270.93,103.3 L271.05,103.3 L271.17,103.3 L271.29,103.3 L271.41,103.3 L271.53,103.3 L271.64,103.3 L271.76,103.3 L271.88,99.71 L272,103.3 L272.12,103.3 L272.24,99.71 L272.36,103.3 L272.47,103.3 L272.59,103.3 L272.71,103.3 L272.83,103.3 L272.95,103.3 L273.07,103.3 L273.19,103.3 L273.3,103.3 L273.42,103.3 L273.54,103.3 L273.66,99.71 L273.78,99.71 L273.9,103.3 L274.02,99.71 L274.13,103.3 L274.25,103.3 L274.37,103.3 L274.49,103.3 L274.61,103.3 L274.73,103.3 L274.85,103.3 L274.96,103.3 L275.08,103.3 L275.2,103.3 L275.32,103.3 L275.44,103.3 L275.56,103.3 L275.68,103.3 L275.8,103.3 L275.91,103.3 L276.03,103.3 L276.15,103.3 L276.27,103.3 L276.39,103.3 L276.51,103.3 L276.63,103.3 L276.74,103.3 L276.86,103.3 L276.98,103.3 L277.1,99.71 L277.22,103.3 L277.34,103.3 L277.46,103.3 L277.57,103.3 L277.69,103.3 L277.81,103.3 L277.93,103.3 L278.05,103.3 L278.17,103.3 L278.29,103.3 L278.4,103.3 L278.52,103.3 L278.64,103.3 L278.76,96.84 L278.88,103.3 L279,103.3 L279.12,99.71 L279.23,103.3 L279.35,103.3 L279.47,103.3 L279.59,103.3 L279.71,103.3 L279.83,103.3 L279.95,103.3 L280.06,103.3 L280.18,103.3 L280.3,103.3 L280.42,103.3 L280.54,103.3 L280.66,103.3 L280.78,103.3 L280.89,103.3 L281.01,103.3 L281.13,103.3 L281.25,103.3 L281.37,103.3 L281.49,103.3 L281.61,103.3 L281.73,103.3 L281.84,103.3 L281.96,103.3 L282.08,103.3 L282.2,103.3 L282.32,103.3 L282.44,103.3 L282.56,103.3 L282.67,103.3 L282.79,94.5 L282.91,103.3 L283.03,103.3 L283.15,103.3 L283.27,99.71 L283.39,103.3 L283.5,103.3 L283.62,103.3 L283.74,103.3 L283.86,99.71 L283.98,103.3 L284.1,103.3 L284.22,103.3 L284.33,103.3 L284.45,103.3 L284.57,103.3 L284.69,99.71 L284.81,103.3 L284.93,103.3 L285.05,103.3 L285.16,103.3 L285.28,103.3 L285.4,103.3 L285.52,103.3 L285.64,103.3 L285.76,103.3 L285.88,103.3 L285.99,103.3 L286.11,103.3 L286.23,96.84 L286.35,103.3 L286.47,103.3 L286.59,103.3 L286.71,103.3 L286.82,103.3 L286.94,103.3 L287.06,103.3 L287.18,103.3 L287.3,103.3 L287.42,103.3 L287.54,103.3 L287.66,103.3 L287.77,103.3 L287.89,103.3 L288.01,103.3 L288.13,103.3 L288.25,103.3 L288.37,103.3 L288.49,103.3 L288.6,103.3 L288.72,99.71 L288.84,103.3 L288.96,103.3 L289.08,103.3 L289.2,103.3 L289.32,103.3 L289.43,103.3 L289.55,103.3 L289.67,103.3 L289.79,103.3 L289.91,103.3 L290.03,103.3 L290.15,103.3 L290.26,103.3 L290.38,103.3 L290.5,103.3 L290.62,103.3 L290.74,103.3 L290.86,103.3 L290.98,103.3 L291.09,103.3 L291.21,103.3 L291.33,103.3 L291.45,103.3 L291.57,103.3 L291.69,103.3 L291.81,103.3 L291.92,103.3 L292.04,103.3 L292.16,103.3 L292.28,103.3 L292.4,103.3 L292.52,103.3 L292.64,103.3 L292.75,103.3 L292.87,103.3 L292.99,103.3 L293.11,103.3 L293.23,103.3 L293.35,103.3 L293.47,103.3 L293.59,103.3 L293.7,103.3 L293.82,103.3 L293.94,103.3 L294.06,103.3 L294.18,103.3 L294.3,103.3 L294.42,103.3 L294.53,103.3 L294.65,103.3 L294.77,103.3 L294.89,103.3 L295.01,103.3 L295.13,103.3 L295.25,103.3 L295.36,103.3 L295.48,103.3 L295.6,103.3 L295.72,103.3 L295.84,103.3 L295.96,103.3 L296.08,103.3 L296.19,103.3 L296.31,103.3 L296.43,103.3 L296.55,103.3 L296.67,103.3 L296.79,103.3 L296.91,103.3 L297.02,103.3 L297.14,103.3 L297.26,103.3 L297.38,103.3 L297.5,103.3 L297.62,103.3 L297.74,103.3 L297.85,103.3 L297.97,103.3 L298.09,103.3 L298.21,103.3 L298.33,103.3 L298.45,103.3 L298.57,103.3 L298.69,103.3 L298.8,103.3 L298.92,99.71 L299.04,103.3 L299.16,103.3 L299.28,103.3 L299.4,103.3 L299.52,103.3 L299.63,103.3 L299.75,99.71 L299.87,103.3 L299.99,103.3 L300.11,103.3 L300.23,103.3 L300.35,103.3 L300.46,103.3 L300.58,103.3 L300.7,103.3 L300.82,103.3 L300.94,103.3 L301.06,103.3 L301.18,103.3 L301.29,103.3 L301.41,103.3 L301.53,103.3 L301.65,103.3 L301.77,103.3 L301.89,103.3 L302.01,103.3 L302.12,103.3 L302.24,103.3 L302.36,103.3 L302.48,103.3 L302.6,103.3 L302.72,103.3 L302.84,103.3 L302.95,103.3 L303.07,103.3 L303.19,103.3 L303.31,103.3 L303.43,103.3 L303.55,103.3 L303.67,103.3 L303.78,103.3 L303.9,103.3 L304.02,103.3 L304.14,103.3 L304.26,103.3 L304.38,103.3 L304.5,103.3 L304.62,103.3 L304.73,103.3 L304.85,103.3 L304.97,103.3 L305.09,103.3 L305.21,103.3 L305.33,103.3 L305.45,103.3 L305.56,103.3 L305.68,103.3 L305.8,103.3 L305.92,103.3 L306.04,103.3 L306.16,103.3 L306.28,103.3 L306.39,103.3 L306.51,103.3 L306.63,103.3 L306.75,103.3 L306.87,103.3 L306.99,103.3 L307.11,103.3 L307.22,103.3 L307.34,103.3 L307.46,103.3 L307.58,103.3 L307.7,103.3 L307.82,103.3 L307.94,103.3 L308.05,103.3 L308.17,103.3 L308.29,103.3 L308.41,103.3 L308.53,103.3 L308.65,103.3 L308.77,103.3 L308.88,103.3 L309,103.3 L309.12,103.3 L309.24,103.3 L309.36,103.3 L309.48,103.3 L309.6,103.3 L309.71,103.3 L309.83,103.3 L309.95,103.3 L310.07,103.3 L310.19,103.3 L310.31,103.3 L310.43,103.3 L310.54,103.3 L310.66,103.3 L310.78,103.3 L310.9,103.3 L311.02,103.3 L311.14,103.3 L311.26,103.3 L311.38,103.3 L311.49,103.3 L311.61,103.3 L311.73,103.3 L311.85,103.3 L311.97,103.3 L312.09,103.3 L312.21,103.3 L312.32,103.3 L312.44,103.3 L312.56,103.3 L312.68,103.3 L312.8,103.3 L312.92,103.3 L313.04,103.3 L313.15,103.3 L313.27,103.3 L313.39,103.3 L313.51,103.3 L313.63,103.3 L313.75,103.3 L313.87,103.3 L313.98,103.3 L314.1,103.3 L314.22,103.3 L314.34,103.3 L314.46,103.3 L314.58,103.3 L314.7,103.3 L314.81,103.3 L314.93,103.3 L315.05,103.3 L315.17,103.3 L315.29,103.3 L315.41,103.3 L315.53,103.3 L315.64,103.3 L315.76,103.3 L315.88,103.3 L316,103.3 L316.12,103.3 L316.24,103.3 L316.36,103.3 L316.47,103.3 L316.59,103.3 L316.71,103.3 L316.83,103.3 L316.95,103.3 L317.07,103.3 L317.19,103.3 L317.31,103.3 L317.42,103.3 L317.54,103.3 L317.66,103.3 L317.78,103.3 L317.9,103.3 L318.02,103.3 L318.14,103.3 L318.25,103.3 L318.37,103.3 L318.49,103.3 L318.61,103.3 L318.73,103.3 L318.85,103.3 L318.97,103.3 L319.08,103.3 L319.2,103.3 L319.32,103.3 L319.44,103.3 L319.56,103.3 L319.68,103.3 L319.8,103.3 L319.91,103.3 L320.03,103.3 L320.15,103.3 L320.27,103.3 L320.39,103.3 L320.51,103.3" stroke="#f01818"/>
</g>
<path d="M212.7,3.5 V97.3 H320.4" fill="none" stroke="#111" stroke-width="1.3"/>
<path d="M210.2,5.7 H212.7 M210.2,35.3 H212.7 M211.4,26.39 H212.7 M211.4,21.18 H212.7 M211.4,17.48 H212.7 M211.4,14.61 H212.7 M211.4,12.27 H212.7 M211.4,10.29 H212.7 M211.4,8.57 H212.7 M211.4,7.05 H212.7 M210.2,64.9 H212.7 M211.4,55.99 H212.7 M211.4,50.78 H212.7 M211.4,47.08 H212.7 M211.4,44.21 H212.7 M211.4,41.87 H212.7 M211.4,39.89 H212.7 M211.4,38.17 H212.7 M211.4,36.65 H212.7 M210.2,94.5 H212.7 M211.4,85.59 H212.7 M211.4,80.38 H212.7 M211.4,76.68 H212.7 M211.4,73.81 H212.7 M211.4,71.47 H212.7 M211.4,69.49 H212.7 M211.4,67.77 H212.7 M211.4,66.25 H212.7 M211.4,95.85 H212.7 M212.7,97.3 V99.5 M233.45,97.3 V98.6 M254.21,97.3 V99.5 M274.96,97.3 V98.6 M295.72,97.3 V99.5 M316.47,97.3 V98.6" fill="none" stroke="#111" stroke-width="0.9"/>
<g font-family="Liberation Sans, sans-serif" font-weight="bold" font-size="7.5" fill="#111" text-anchor="end">
<text x="209.6" y="7.8">1</text>
<text x="209.6" y="37.4">0.1</text>
<text x="209.6" y="67">0.01</text>
<text x="209.6" y="96.6">1E-3</text>
</g>
<g font-family="Liberation Sans, sans-serif" font-weight="bold" font-size="7.5" fill="#111" text-anchor="middle">
<text x="212.4" y="106.5">0</text>
<text x="253.91" y="106.5">35</text>
<text x="295.42" y="106.5">70</text>
</g>
<text x="266.2" y="115" font-family="Liberation Sans, sans-serif" font-weight="bold" font-size="10.2" letter-spacing="0.25" fill="#111" text-anchor="middle">Time (ns)</text>
<text transform="translate(188.3,55.9) rotate(-90)" font-family="Liberation Sans, sans-serif" font-weight="bold" font-size="9.15" fill="#111" text-anchor="middle">PL Intensity (a.u.)</text>
<rect x="212.7" y="127.1" width="107.1" height="93.5" fill="#fff"/>
<g clip-path="url(#clipe)" fill="none" stroke-width="1" stroke-linejoin="round">
<path d="M212.7,129.3 L212.94,129.41 L213.17,129.74 L213.41,130.26 L213.65,131.03 L213.89,134.11 L214.12,138.57 L214.36,142.13 L214.6,145.07 L214.83,147.87 L215.07,150.37 L215.31,152.39 L215.55,153.79 L215.78,154.78 L216.02,155.59 L216.26,156.12 L216.5,156.6 L216.73,157.37 L216.97,158.36 L217.21,159 L217.44,159.82 L217.68,160.78 L217.92,160.76 L218.16,161.52 L218.39,162.39 L218.63,163.3 L218.87,164.39 L219.1,164.8 L219.34,165.37 L219.58,164.44 L219.82,165.92 L220.05,166.88 L220.29,166.08 L220.53,166.56 L220.76,167.45 L221,167.87 L221.24,169.04 L221.48,169.56 L221.71,169.4 L221.95,169.01 L222.19,170.5 L222.43,170.07 L222.66,170.52 L222.9,171.09 L223.14,171.64 L223.37,171.9 L223.61,171.99 L223.85,171.19 L224.09,171.75 L224.32,172.74 L224.56,172.56 L224.8,172.1 L225.03,172.65 L225.27,173.62 L225.51,172.79 L225.75,173.37 L225.98,174.19 L226.22,173.88 L226.46,174.27 L226.69,173.55 L226.93,175.38 L227.17,175.97 L227.41,174.76 L227.64,175.32 L227.88,176.72 L228.12,176.03 L228.36,176.62 L228.59,175.97 L228.83,177.11 L229.07,176.03 L229.3,176.47 L229.54,176.34 L229.78,177.97 L230.02,177.25 L230.25,177.76 L230.49,177.48 L230.73,179.55 L230.96,178.15 L231.2,178.51 L231.44,179 L231.68,180.04 L231.91,179.59 L232.15,179.71 L232.39,179.51 L232.62,180.94 L232.86,182.26 L233.1,180.29 L233.34,182.16 L233.57,180.55 L233.81,182.11 L234.05,183.18 L234.29,182.26 L234.52,182.41 L234.76,183.78 L235,182.41 L235.23,183.72 L235.47,182.61 L235.71,183.83 L235.95,183.56 L236.18,183.61 L236.42,184.35 L236.66,183.89 L236.89,184.94 L237.13,185.38 L237.37,186.29 L237.61,186.02 L237.84,185.38 L238.08,184.58 L238.32,185.13 L238.55,186.22 L238.79,185.5 L239.03,185.13 L239.27,185.83 L239.5,186.02 L239.74,185.96 L239.98,186.91 L240.22,186.43 L240.45,186.36 L240.69,186.91 L240.93,186.7 L241.16,190.68 L241.4,187.06 L241.64,188.1 L241.88,188.1 L242.11,188.1 L242.35,186.99 L242.59,188.66 L242.82,187.06 L243.06,189.08 L243.3,189.08 L243.54,190.03 L243.77,188.42 L244.01,188.66 L244.25,189.85 L244.48,189.85 L244.72,190.13 L244.96,189.42 L245.2,190.03 L245.43,189.77 L245.67,189.68 L245.91,190.31 L246.15,191.99 L246.38,193.32 L246.62,191.99 L246.86,190.5 L247.09,190.78 L247.33,190.13 L247.57,191.78 L247.81,190.78 L248.04,191.27 L248.28,192.41 L248.52,190.5 L248.75,191.07 L248.99,191.99 L249.23,193.67 L249.47,193.67 L249.7,191.88 L249.94,193.67 L250.18,194.29 L250.41,193.09 L250.65,193.55 L250.89,192.31 L251.13,194.67 L251.36,192.97 L251.6,190.97 L251.84,191.27 L252.08,193.91 L252.31,194.8 L252.55,192.97 L252.79,194.04 L253.02,195.47 L253.26,195.34 L253.5,194.16 L253.74,194.54 L253.97,195.61 L254.21,193.67 L254.45,193.43 L254.68,193.09 L254.92,194.54 L255.16,194.54 L255.4,193.09 L255.63,194.41 L255.87,195.61 L256.11,193.91 L256.34,196.78 L256.58,194.8 L256.82,195.07 L257.06,195.47 L257.29,196.04 L257.53,197.57 L257.77,195.9 L258.01,197.57 L258.24,196.04 L258.48,195.47 L258.72,195.75 L258.95,194.93 L259.19,198.94 L259.43,196.04 L259.67,197.41 L259.9,198.41 L260.14,197.41 L260.38,196.19 L260.61,196.19 L260.85,197.74 L261.09,199.13 L261.33,201.11 L261.56,199.31 L261.8,196.04 L262.04,201.11 L262.27,198.76 L262.51,200.48 L262.75,197.41 L262.99,200.48 L263.22,200.69 L263.46,198.24 L263.7,197.09 L263.94,199.5 L264.17,200.28 L264.41,198.24 L264.65,201.32 L264.88,197.57 L265.12,202.95 L265.36,200.48 L265.6,203.2 L265.83,201.54 L266.07,201.77 L266.31,199.88 L266.54,199.88 L266.78,200.69 L267.02,203.45 L267.26,200.48 L267.49,203.71 L267.73,199.31 L267.97,204.52 L268.2,201.54 L268.44,204.81 L268.68,200.48 L268.92,200.9 L269.15,201.32 L269.39,202.95 L269.63,202.95 L269.87,200.9 L270.1,205.1 L270.34,205.1 L270.58,200.9 L270.81,206.32 L271.05,202.7 L271.29,202.23 L271.53,202.46 L271.76,202.46 L272,203.71 L272.24,205.1 L272.47,202.23 L272.71,201.32 L272.95,199.5 L273.19,201.77 L273.42,205.69 L273.66,203.2 L273.9,204.52 L274.13,203.71 L274.37,203.2 L274.61,201.32 L274.85,204.81 L275.08,201.54 L275.32,204.52 L275.56,203.2 L275.8,206.65 L276.03,207.32 L276.27,206 L276.51,206 L276.74,206 L276.98,203.71 L277.22,203.71 L277.46,208.41 L277.69,202.23 L277.93,206.32 L278.17,209.19 L278.4,206.65 L278.64,208.41 L278.88,203.71 L279.12,205.39 L279.35,206 L279.59,207.32 L279.83,202.95 L280.06,204.81 L280.3,204.52 L280.54,203.71 L280.78,203.71 L281.01,204.25 L281.25,205.39 L281.49,203.45 L281.73,206.32 L281.96,208.41 L282.2,203.45 L282.44,204.25 L282.67,204.52 L282.91,205.69 L283.15,207.32 L283.39,205.69 L283.62,208.79 L283.86,207.32 L284.1,206.65 L284.33,205.1 L284.57,205.69 L284.81,210.45 L285.05,208.41 L285.28,203.45 L285.52,204.25 L285.76,208.04 L285.99,209.6 L286.23,206.65 L286.47,207.32 L286.71,205.1 L286.94,206.98 L287.18,207.68 L287.42,209.19 L287.66,206.32 L287.89,205.39 L288.13,207.32 L288.37,207.32 L288.6,209.6 L288.84,206.98 L289.08,206.98 L289.32,209.6 L289.55,208.79 L289.79,209.6 L290.03,210.91 L290.26,208.04 L290.5,204.81 L290.74,208.79 L290.98,212.36 L291.21,207.68 L291.45,207.68 L291.69,210.91 L291.92,208.04 L292.16,211.37 L292.4,207.32 L292.64,216.59 L292.87,210.02 L293.11,209.19 L293.35,205.1 L293.59,212.36 L293.82,209.19 L294.06,210.45 L294.3,210.91 L294.53,208.41 L294.77,210.45 L295.01,210.91 L295.25,208.04 L295.48,209.19 L295.72,210.02 L295.96,210.45 L296.19,210.91 L296.43,208.79 L296.67,209.19 L296.91,210.45 L297.14,209.19 L297.38,209.6 L297.62,207.32 L297.85,210.02 L298.09,209.6 L298.33,208.79 L298.57,212.36 L298.8,214.01 L299.04,214.01 L299.28,211.86 L299.52,210.91 L299.75,214.01 L299.99,213.43 L300.23,209.6 L300.46,208.79 L300.7,211.37 L300.94,212.36 L301.18,212.89 L301.41,210.02 L301.65,217.32 L301.89,212.89 L302.12,210.45 L302.36,210.45 L302.6,208.79 L302.84,212.89 L303.07,211.86 L303.31,211.86 L303.55,208.41 L303.78,208.41 L304.02,213.43 L304.26,208.41 L304.5,210.45 L304.73,215.23 L304.97,212.36 L305.21,214.01 L305.45,210.02 L305.68,212.36 L305.92,209.19 L306.16,211.37 L306.39,213.43 L306.63,215.89 L306.87,218.93 L307.11,212.36 L307.34,212.89 L307.58,215.89 L307.82,207.68 L308.05,212.36 L308.29,212.36 L308.53,211.86 L308.77,209.6 L309,215.89 L309.24,212.89 L309.48,215.89 L309.71,216.59 L309.95,211.37 L310.19,217.32 L310.43,211.37 L310.66,210.02 L310.9,210.91 L311.14,210.02 L311.38,220.77 L311.61,218.93 L311.85,215.89 L312.09,217.32 L312.32,210.45 L312.56,213.43 L312.8,215.89 L313.04,209.19 L313.27,218.93 L313.51,215.89 L313.75,214.6 L313.98,215.89 L314.22,216.59 L314.46,212.36 L314.7,214.6 L314.93,214.6 L315.17,213.43 L315.41,211.86 L315.64,212.89 L315.88,214.6 L316.12,215.23 L316.36,219.82 L316.59,211.86 L316.83,216.59 L317.07,217.32 L317.31,216.59 L317.54,211.86 L317.78,214.01 L318.02,212.89 L318.25,222.92 L318.49,212.89 L318.73,209.6 L318.97,215.89 L319.2,218.93 L319.44,217.32 L319.68,214.6 L319.91,222.92 L320.15,214.01 L320.39,221.8" stroke="#1a1aee"/>
<path d="M212.7,129.3 L212.82,129.57 L212.94,130.07 L213.06,130.76 L213.17,131.62 L213.29,132.6 L213.41,133.69 L213.53,134.84 L213.65,136.09 L213.77,137.82 L213.89,139.96 L214,142.35 L214.12,144.79 L214.24,147.12 L214.36,149.15 L214.48,150.82 L214.6,152.4 L214.72,153.91 L214.83,155.36 L214.95,156.74 L215.07,158.04 L215.19,159.28 L215.31,160.44 L215.43,161.52 L215.55,162.54 L215.66,163.5 L215.78,164.43 L215.9,165.31 L216.02,166.16 L216.14,166.96 L216.26,167.23 L216.38,168.36 L216.5,169.99 L216.61,170.39 L216.73,170.39 L216.85,170.36 L216.97,170.68 L217.09,171.72 L217.21,172.58 L217.33,173.04 L217.44,173.11 L217.56,172.4 L217.68,174.29 L217.8,174.33 L217.92,174 L218.04,175.88 L218.16,174.95 L218.27,176.82 L218.39,175.59 L218.51,175.88 L218.63,176.82 L218.75,176.67 L218.87,178.42 L218.99,178.13 L219.1,179.46 L219.22,179.72 L219.34,176.67 L219.46,180.25 L219.58,180.05 L219.7,178.54 L219.82,180.25 L219.93,180.11 L220.05,182.38 L220.17,180.8 L220.29,182.3 L220.41,182.06 L220.53,182.14 L220.65,182.14 L220.76,182.22 L220.88,180.8 L221,181.68 L221.12,183.46 L221.24,185.03 L221.36,184.64 L221.48,183.72 L221.59,187.04 L221.71,185.03 L221.83,187.51 L221.95,184.83 L222.07,183.64 L222.19,185.43 L222.31,186.7 L222.43,185.73 L222.54,188.63 L222.66,187.75 L222.78,187.39 L222.9,184.27 L223.02,187.27 L223.14,188.63 L223.26,187.39 L223.37,188.76 L223.49,191.37 L223.61,191.86 L223.73,188.12 L223.85,190.14 L223.97,188.76 L224.09,188.89 L224.2,189.57 L224.32,189.3 L224.44,192.03 L224.56,190.59 L224.68,190.44 L224.8,190.74 L224.92,189.71 L225.03,191.05 L225.15,192.03 L225.27,189.57 L225.39,192.72 L225.51,189.16 L225.63,195.95 L225.75,192.2 L225.86,192.72 L225.98,195.73 L226.1,191.05 L226.22,195.73 L226.34,192.55 L226.46,191.86 L226.58,193.27 L226.69,193.65 L226.81,195.07 L226.93,192.72 L227.05,198.48 L227.17,195.73 L227.29,194.04 L227.41,193.09 L227.52,194.44 L227.64,194.65 L227.76,195.07 L227.88,196.42 L228,197.67 L228.12,192.72 L228.24,195.5 L228.36,197.67 L228.47,197.41 L228.59,195.73 L228.71,199.65 L228.83,197.67 L228.95,197.16 L229.07,204.41 L229.19,199.05 L229.3,196.91 L229.42,201.63 L229.54,202.37 L229.66,199.35 L229.78,199.96 L229.9,199.35 L230.02,195.73 L230.13,200.28 L230.25,198.21 L230.37,199.96 L230.49,195.95 L230.61,197.67 L230.73,198.76 L230.85,197.94 L230.96,201.28 L231.08,200.6 L231.2,197.16 L231.32,202 L231.44,200.94 L231.56,196.91 L231.68,200.28 L231.79,196.91 L231.91,200.28 L232.03,199.96 L232.15,200.94 L232.27,202 L232.39,202.37 L232.51,202.75 L232.62,205.82 L232.74,202 L232.86,204.86 L232.98,201.63 L233.1,205.33 L233.22,204.41 L233.34,203.15 L233.45,202.37 L233.57,202 L233.69,200.94 L233.81,201.28 L233.93,205.33 L234.05,207.39 L234.17,205.33 L234.29,202.75 L234.4,205.33 L234.52,199.35 L234.64,204.86 L234.76,203.56 L234.88,202.75 L235,203.56 L235.12,208.56 L235.23,206.32 L235.35,208.56 L235.47,202.37 L235.59,203.98 L235.71,209.19 L235.83,203.98 L235.95,207.39 L236.06,203.98 L236.18,204.86 L236.3,203.15 L236.42,207.39 L236.54,206.32 L236.66,207.39 L236.78,210.54 L236.89,205.33 L237.01,209.19 L237.13,205.33 L237.25,207.39 L237.37,203.98 L237.49,202 L237.61,207.39 L237.72,206.85 L237.84,203.15 L237.96,206.85 L238.08,209.19 L238.2,209.19 L238.32,202 L238.44,208.56 L238.55,207.96 L238.67,206.85 L238.79,208.56 L238.91,207.96 L239.03,207.39 L239.15,203.15 L239.27,206.85 L239.38,210.54 L239.5,213.77 L239.62,206.32 L239.74,204.86 L239.86,212.06 L239.98,213.77 L240.1,203.98 L240.22,206.32 L240.33,209.19 L240.45,203.98 L240.57,208.56 L240.69,204.86 L240.81,210.54 L240.93,207.39 L241.05,206.32 L241.16,208.56 L241.28,206.85 L241.4,207.39 L241.52,211.28 L241.64,210.54 L241.76,207.39 L241.88,212.89 L241.99,215.76 L242.11,207.39 L242.23,212.06 L242.35,207.96 L242.47,218.1 L242.59,207.96 L242.71,209.19 L242.82,210.54 L242.94,215.76 L243.06,207.96 L243.18,213.77 L243.3,208.56 L243.42,211.28 L243.54,209.19 L243.65,209.19 L243.77,212.06 L243.89,211.28 L244.01,214.73 L244.13,212.06 L244.25,220.97 L244.37,215.76 L244.48,212.06 L244.6,207.96 L244.72,211.28 L244.84,216.87 L244.96,208.56 L245.08,210.54 L245.2,212.06 L245.31,219.45 L245.43,213.77 L245.55,206.85 L245.67,214.73 L245.79,213.77 L245.91,214.73 L246.03,210.54 L246.15,215.76 L246.26,211.28 L246.38,209.85 L246.5,210.54 L246.62,215.76 L246.74,216.87 L246.86,212.89 L246.98,218.1 L247.09,204.86 L247.21,213.77 L247.33,212.89 L247.45,213.77 L247.57,211.28 L247.69,212.89 L247.81,209.19 L247.92,209.19 L248.04,214.73 L248.16,215.76 L248.28,216.87 L248.4,209.19 L248.52,218.1 L248.64,213.77 L248.75,209.85 L248.87,214.73 L248.99,209.85 L249.11,212.89 L249.23,213.77 L249.35,213.77 L249.47,215.76 L249.58,218.1 L249.7,216.87 L249.82,215.76 L249.94,209.19 L250.06,212.89 L250.18,222.69 L250.3,220.97 L250.41,210.54 L250.53,216.87 L250.65,212.89 L250.77,220.97 L250.89,222.69 L251.01,218.1 L251.13,216.87 L251.25,222.69 L251.36,213.77 L251.48,212.06 L251.6,212.89 L251.72,218.1 L251.84,218.1 L251.96,220.97 L252.08,215.76 L252.19,218.1 L252.31,212.89 L252.43,218.1 L252.55,213.77 L252.67,215.76 L252.79,209.85 L252.91,212.06 L253.02,220.97 L253.14,215.76 L253.26,213.77 L253.38,218.1 L253.5,216.87 L253.62,219.45 L253.74,214.73 L253.85,213.77 L253.97,218.1 L254.09,214.73 L254.21,214.73 L254.33,211.28 L254.45,213.77 L254.57,212.89 L254.68,216.87 L254.8,224.67 L254.92,216.87 L255.04,215.76 L255.16,214.73 L255.28,220.97 L255.4,222.69 L255.51,219.45 L255.63,220.97 L255.75,215.76 L255.87,220.97 L255.99,220.97 L256.11,224.67 L256.23,224.67 L256.34,211.28 L256.46,224.67 L256.58,214.73 L256.7,215.76 L256.82,212.89 L256.94,215.76 L257.06,219.45 L257.17,215.76 L257.29,218.1 L257.41,214.73 L257.53,224.67 L257.65,220.97 L257.77,222.69 L257.89,220.97 L258.01,218.1 L258.12,220.97 L258.24,216.87 L258.36,222.69 L258.48,226.6 L258.6,219.45 L258.72,226.6 L258.84,215.76 L258.95,216.87 L259.07,224.67 L259.19,220.97 L259.31,222.69 L259.43,216.87 L259.55,226.6 L259.67,208.56 L259.78,226.6 L259.9,222.69 L260.02,226.6 L260.14,219.45 L260.26,214.73 L260.38,212.89 L260.5,220.97 L260.61,219.45 L260.73,220.97 L260.85,216.87 L260.97,226.6 L261.09,214.73 L261.21,218.1 L261.33,218.1 L261.44,226.6 L261.56,219.45 L261.68,218.1 L261.8,213.77 L261.92,219.45 L262.04,222.69 L262.16,216.87 L262.27,226.6 L262.39,219.45 L262.51,222.69 L262.63,215.76 L262.75,219.45 L262.87,219.45 L262.99,226.6 L263.11,218.1 L263.22,220.97 L263.34,226.6 L263.46,218.1 L263.58,222.69 L263.7,212.06 L263.82,222.69 L263.94,213.77 L264.05,215.76 L264.17,219.45 L264.29,218.1 L264.41,226.6 L264.53,218.1 L264.65,222.69 L264.77,218.1 L264.88,226.6 L265,214.73 L265.12,220.97 L265.24,219.45 L265.36,222.69 L265.48,226.6 L265.6,226.6 L265.71,222.69 L265.83,226.6 L265.95,219.45 L266.07,220.97 L266.19,226.6 L266.31,219.45 L266.43,226.6 L266.54,222.69 L266.66,224.67 L266.78,220.97 L266.9,216.87 L267.02,226.6 L267.14,224.67 L267.26,222.69 L267.37,219.45 L267.49,226.6 L267.61,222.69 L267.73,224.67 L267.85,218.1 L267.97,218.1 L268.09,224.67 L268.2,216.87 L268.32,226.6 L268.44,218.1 L268.56,226.6 L268.68,222.69 L268.8,226.6 L268.92,226.6 L269.03,220.97 L269.15,226.6 L269.27,215.76 L269.39,222.69 L269.51,224.67 L269.63,222.69 L269.75,226.6 L269.87,226.6 L269.98,218.1 L270.1,226.6 L270.22,226.6 L270.34,226.6 L270.46,226.6 L270.58,222.69 L270.7,224.67 L270.81,224.67 L270.93,226.6 L271.05,220.97 L271.17,224.67 L271.29,222.69 L271.41,226.6 L271.53,219.45 L271.64,224.67 L271.76,226.6 L271.88,226.6 L272,219.45 L272.12,226.6 L272.24,224.67 L272.36,222.69 L272.47,226.6 L272.59,226.6 L272.71,215.76 L272.83,224.67 L272.95,215.76 L273.07,226.6 L273.19,218.1 L273.3,218.1 L273.42,226.6 L273.54,226.6 L273.66,226.6 L273.78,226.6 L273.9,222.69 L274.02,224.67 L274.13,222.69 L274.25,224.67 L274.37,226.6 L274.49,220.97 L274.61,224.67 L274.73,226.6 L274.85,226.6 L274.96,224.67 L275.08,226.6 L275.2,219.45 L275.32,222.69 L275.44,226.6 L275.56,219.45 L275.68,226.6 L275.8,226.6 L275.91,214.73 L276.03,226.6 L276.15,219.45 L276.27,226.6 L276.39,226.6 L276.51,220.97 L276.63,224.67 L276.74,224.67 L276.86,226.6 L276.98,222.69 L277.1,218.1 L277.22,218.1 L277.34,226.6 L277.46,219.45 L277.57,226.6 L277.69,226.6 L277.81,226.6 L277.93,222.69 L278.05,224.67 L278.17,222.69 L278.29,220.97 L278.4,226.6 L278.52,224.67 L278.64,222.69 L278.76,224.67 L278.88,226.6 L279,222.69 L279.12,224.67 L279.23,224.67 L279.35,220.97 L279.47,224.67 L279.59,222.69 L279.71,226.6 L279.83,226.6 L279.95,226.6 L280.06,226.6 L280.18,220.97 L280.3,222.69 L280.42,226.6 L280.54,226.6 L280.66,226.6 L280.78,216.87 L280.89,226.6 L281.01,226.6 L281.13,226.6 L281.25,226.6 L281.37,226.6 L281.49,224.67 L281.61,226.6 L281.73,226.6 L281.84,220.97 L281.96,222.69 L282.08,224.67 L282.2,222.69 L282.32,226.6 L282.44,224.67 L282.56,226.6 L282.67,220.97 L282.79,226.6 L282.91,222.69 L283.03,226.6 L283.15,224.67 L283.27,226.6 L283.39,226.6 L283.5,226.6 L283.62,226.6 L283.74,226.6 L283.86,226.6 L283.98,224.67 L284.1,226.6 L284.22,226.6 L284.33,226.6 L284.45,226.6 L284.57,219.45 L284.69,226.6 L284.81,226.6 L284.93,226.6 L285.05,226.6 L285.16,226.6 L285.28,222.69 L285.4,226.6 L285.52,226.6 L285.64,226.6 L285.76,226.6 L285.88,220.97 L285.99,226.6 L286.11,226.6 L286.23,224.67 L286.35,226.6 L286.47,226.6 L286.59,226.6 L286.71,224.67 L286.82,226.6 L286.94,226.6 L287.06,224.67 L287.18,226.6 L287.3,226.6 L287.42,226.6 L287.54,226.6 L287.66,226.6 L287.77,226.6 L287.89,226.6 L288.01,226.6 L288.13,226.6 L288.25,226.6 L288.37,220.97 L288.49,226.6 L288.6,226.6 L288.72,222.69 L288.84,226.6 L288.96,226.6 L289.08,226.6 L289.2,226.6 L289.32,226.6 L289.43,226.6 L289.55,226.6 L289.67,226.6 L289.79,226.6 L289.91,226.6 L290.03,224.67 L290.15,226.6 L290.26,226.6 L290.38,226.6 L290.5,226.6 L290.62,226.6 L290.74,226.6 L290.86,226.6 L290.98,226.6 L291.09,226.6 L291.21,224.67 L291.33,226.6 L291.45,219.45 L291.57,224.67 L291.69,226.6 L291.81,220.97 L291.92,226.6 L292.04,220.97 L292.16,226.6 L292.28,226.6 L292.4,226.6 L292.52,226.6 L292.64,226.6 L292.75,224.67 L292.87,224.67 L292.99,226.6 L293.11,226.6 L293.23,226.6 L293.35,222.69 L293.47,226.6 L293.59,226.6 L293.7,226.6 L293.82,226.6 L293.94,226.6 L294.06,226.6 L294.18,226.6 L294.3,222.69 L294.42,226.6 L294.53,226.6 L294.65,226.6 L294.77,226.6 L294.89,226.6 L295.01,226.6 L295.13,226.6 L295.25,224.67 L295.36,226.6 L295.48,226.6 L295.6,226.6 L295.72,226.6 L295.84,220.97 L295.96,226.6 L296.08,226.6 L296.19,226.6 L296.31,226.6 L296.43,226.6 L296.55,226.6 L296.67,224.67 L296.79,226.6 L296.91,226.6 L297.02,226.6 L297.14,226.6 L297.26,222.69 L297.38,226.6 L297.5,226.6 L297.62,226.6 L297.74,226.6 L297.85,220.97 L297.97,226.6 L298.09,226.6 L298.21,226.6 L298.33,226.6 L298.45,226.6 L298.57,224.67 L298.69,226.6 L298.8,226.6 L298.92,226.6 L299.04,226.6 L299.16,220.97 L299.28,226.6 L299.4,226.6 L299.52,226.6 L299.63,226.6 L299.75,226.6 L299.87,226.6 L299.99,226.6 L300.11,226.6 L300.23,226.6 L300.35,226.6 L300.46,226.6 L300.58,226.6 L300.7,220.97 L300.82,226.6 L300.94,226.6 L301.06,226.6 L301.18,226.6 L301.29,226.6 L301.41,226.6 L301.53,222.69 L301.65,226.6 L301.77,226.6 L301.89,224.67 L302.01,226.6 L302.12,226.6 L302.24,226.6 L302.36,226.6 L302.48,226.6 L302.6,226.6 L302.72,226.6 L302.84,226.6 L302.95,226.6 L303.07,226.6 L303.19,226.6 L303.31,226.6 L303.43,226.6 L303.55,226.6 L303.67,226.6 L303.78,224.67 L303.9,226.6 L304.02,224.67 L304.14,226.6 L304.26,224.67 L304.38,226.6 L304.5,226.6 L304.62,226.6 L304.73,226.6 L304.85,226.6 L304.97,226.6 L305.09,226.6 L305.21,226.6 L305.33,224.67 L305.45,226.6 L305.56,226.6 L305.68,226.6 L305.8,226.6 L305.92,222.69 L306.04,226.6 L306.16,226.6 L306.28,226.6 L306.39,226.6 L306.51,226.6 L306.63,226.6 L306.75,226.6 L306.87,226.6 L306.99,226.6 L307.11,226.6 L307.22,226.6 L307.34,226.6 L307.46,226.6 L307.58,226.6 L307.7,226.6 L307.82,226.6 L307.94,226.6 L308.05,226.6 L308.17,226.6 L308.29,226.6 L308.41,226.6 L308.53,226.6 L308.65,226.6 L308.77,226.6 L308.88,226.6 L309,226.6 L309.12,226.6 L309.24,226.6 L309.36,226.6 L309.48,224.67 L309.6,222.69 L309.71,226.6 L309.83,226.6 L309.95,226.6 L310.07,226.6 L310.19,226.6 L310.31,226.6 L310.43,226.6 L310.54,226.6 L310.66,226.6 L310.78,226.6 L310.9,226.6 L311.02,226.6 L311.14,226.6 L311.26,226.6 L311.38,226.6 L311.49,226.6 L311.61,226.6 L311.73,226.6 L311.85,226.6 L311.97,226.6 L312.09,226.6 L312.21,226.6 L312.32,226.6 L312.44,226.6 L312.56,226.6 L312.68,226.6 L312.8,224.67 L312.92,226.6 L313.04,226.6 L313.15,226.6 L313.27,226.6 L313.39,226.6 L313.51,226.6 L313.63,226.6 L313.75,226.6 L313.87,226.6 L313.98,226.6 L314.1,226.6 L314.22,226.6 L314.34,226.6 L314.46,226.6 L314.58,226.6 L314.7,226.6 L314.81,224.67 L314.93,226.6 L315.05,226.6 L315.17,226.6 L315.29,226.6 L315.41,226.6 L315.53,226.6 L315.64,226.6 L315.76,226.6 L315.88,226.6 L316,226.6 L316.12,226.6 L316.24,226.6 L316.36,226.6 L316.47,226.6 L316.59,226.6 L316.71,226.6 L316.83,226.6 L316.95,226.6 L317.07,226.6 L317.19,226.6 L317.31,226.6 L317.42,226.6 L317.54,226.6 L317.66,226.6 L317.78,226.6 L317.9,226.6 L318.02,226.6 L318.14,226.6 L318.25,226.6 L318.37,226.6 L318.49,226.6 L318.61,226.6 L318.73,226.6 L318.85,226.6 L318.97,226.6 L319.08,226.6 L319.2,226.6 L319.32,226.6 L319.44,226.6 L319.56,224.67 L319.68,226.6 L319.8,226.6 L319.91,226.6 L320.03,226.6 L320.15,226.6 L320.27,226.6 L320.39,226.6 L320.51,226.6" stroke="#f01818"/>
</g>
<path d="M212.7,126.5 V220.6 H320.4" fill="none" stroke="#111" stroke-width="1.3"/>
<path d="M210.2,129.3 H212.7 M210.2,158.9 H212.7 M211.4,149.99 H212.7 M211.4,144.78 H212.7 M211.4,141.08 H212.7 M211.4,138.21 H212.7 M211.4,135.87 H212.7 M211.4,133.89 H212.7 M211.4,132.17 H212.7 M211.4,130.65 H212.7 M210.2,188.5 H212.7 M211.4,179.59 H212.7 M211.4,174.38 H212.7 M211.4,170.68 H212.7 M211.4,167.81 H212.7 M211.4,165.47 H212.7 M211.4,163.49 H212.7 M211.4,161.77 H212.7 M211.4,160.25 H212.7 M210.2,218.1 H212.7 M211.4,209.19 H212.7 M211.4,203.98 H212.7 M211.4,200.28 H212.7 M211.4,197.41 H212.7 M211.4,195.07 H212.7 M211.4,193.09 H212.7 M211.4,191.37 H212.7 M211.4,189.85 H212.7 M211.4,219.45 H212.7 M212.7,220.6 V222.8 M233.45,220.6 V221.9 M254.21,220.6 V222.8 M274.96,220.6 V221.9 M295.72,220.6 V222.8 M316.47,220.6 V221.9" fill="none" stroke="#111" stroke-width="0.9"/>
<g font-family="Liberation Sans, sans-serif" font-weight="bold" font-size="7.5" fill="#111" text-anchor="end">
<text x="209.6" y="131.4">1</text>
<text x="209.6" y="161">0.1</text>
<text x="209.6" y="190.6">0.01</text>
<text x="209.6" y="220.2">1E-3</text>
</g>
<g font-family="Liberation Sans, sans-serif" font-weight="bold" font-size="7.5" fill="#111" text-anchor="middle">
<text x="212.4" y="229.8">0</text>
<text x="253.91" y="229.8">35</text>
<text x="295.42" y="229.8">70</text>
</g>
<text x="266.2" y="238.3" font-family="Liberation Sans, sans-serif" font-weight="bold" font-size="10.2" letter-spacing="0.25" fill="#111" text-anchor="middle">Time (ns)</text>
<text transform="translate(188.3,178.9) rotate(-90)" font-family="Liberation Sans, sans-serif" font-weight="bold" font-size="9.15" fill="#111" text-anchor="middle">PL Intensity (a.u.)</text>
<rect x="212.7" y="250.1" width="107.1" height="92.4" fill="#fff"/>
<g clip-path="url(#clipf)" fill="none" stroke-width="1" stroke-linejoin="round">
<path d="M212.7,251.59 L212.82,252.41 L212.94,253.23 L213.06,254.06 L213.17,254.88 L213.29,255.7 L213.41,256.52 L213.53,257.34 L213.65,258.16 L213.77,258.98 L213.89,259.8 L214,260.62 L214.12,261.44 L214.24,262.25 L214.36,263.06 L214.48,263.87 L214.6,264.69 L214.72,265.5 L214.83,266.33 L214.95,267.17 L215.07,268.01 L215.19,268.88 L215.31,269.8 L215.43,270.76 L215.55,271.73 L215.66,272.71 L215.78,273.68 L215.9,274.62 L216.02,275.52 L216.14,276.36 L216.26,277.19 L216.38,277.48 L216.5,277.63 L216.61,278.45 L216.73,280.12 L216.85,280.64 L216.97,279.69 L217.09,281.21 L217.21,281.75 L217.33,282.1 L217.44,281.61 L217.56,282.23 L217.68,283.45 L217.8,283.67 L217.92,284.13 L218.04,283.08 L218.16,285.37 L218.27,284.68 L218.39,285.29 L218.51,285.16 L218.63,286.01 L218.75,286.07 L218.87,286.61 L218.99,286.98 L219.1,286.79 L219.22,286.31 L219.34,286.72 L219.46,287.43 L219.58,286.81 L219.7,287.6 L219.82,288.05 L219.93,287.65 L220.05,289.2 L220.17,288.63 L220.29,289.23 L220.41,288.39 L220.53,289.95 L220.65,288.73 L220.76,290.22 L220.88,289.83 L221,290.52 L221.12,289.8 L221.24,290.31 L221.36,290.64 L221.48,290.04 L221.59,291.68 L221.71,290.68 L221.83,290.28 L221.95,291.28 L222.07,291.32 L222.19,291.45 L222.31,292.38 L222.43,291.38 L222.54,293.27 L222.66,292.81 L222.78,292.89 L222.9,292.03 L223.02,291.42 L223.14,292.13 L223.26,293.19 L223.37,293.3 L223.49,292.96 L223.61,292.93 L223.73,293.23 L223.85,293.69 L223.97,293.15 L224.09,293.85 L224.2,293.15 L224.32,293.3 L224.44,294.38 L224.56,292.93 L224.68,295.07 L224.8,293.23 L224.92,294.18 L225.03,296.08 L225.15,294.64 L225.27,294.01 L225.39,294.55 L225.51,294.43 L225.63,295.79 L225.75,296.37 L225.86,297.33 L225.98,295.56 L226.1,295.2 L226.22,295.98 L226.34,296.71 L226.46,297.17 L226.58,297.48 L226.69,296.96 L226.81,297.65 L226.93,298.95 L227.05,297.27 L227.17,297.22 L227.29,297.7 L227.41,299.56 L227.52,298.03 L227.64,299.43 L227.76,298.08 L227.88,299.25 L228,298.31 L228.12,298.48 L228.24,300.13 L228.36,298.19 L228.47,298.25 L228.59,299.74 L228.71,299.49 L228.83,300.59 L228.95,299.81 L229.07,300.13 L229.19,299.25 L229.3,300 L229.42,299.87 L229.54,301.58 L229.66,301.36 L229.78,301.08 L229.9,300.66 L230.02,299.68 L230.13,301.29 L230.25,302.49 L230.37,299.68 L230.49,301.15 L230.61,300.53 L230.73,301.65 L230.85,301.8 L230.96,301.73 L231.08,301.65 L231.2,302.49 L231.32,299.01 L231.44,301.65 L231.56,300.26 L231.68,302.18 L231.79,300.94 L231.91,301.8 L232.03,302.02 L232.15,301.08 L232.27,303.21 L232.39,301.15 L232.51,302.97 L232.62,302.88 L232.74,303.46 L232.86,302.49 L232.98,304.34 L233.1,303.98 L233.22,304.16 L233.34,304.99 L233.45,304.71 L233.57,305.37 L233.69,301.65 L233.81,302.41 L233.93,303.05 L234.05,303.46 L234.17,303.38 L234.29,303.81 L234.4,305.18 L234.52,305.37 L234.64,304.89 L234.76,305.47 L234.88,307.16 L235,304.89 L235.12,306.94 L235.23,305.47 L235.35,305.98 L235.47,305.87 L235.59,304.61 L235.71,306.94 L235.83,305.98 L235.95,306.18 L236.06,305.28 L236.18,305.57 L236.3,304.34 L236.42,307.74 L236.54,306.08 L236.66,305.77 L236.78,307.74 L236.89,305.47 L237.01,305.47 L237.13,307.86 L237.25,306.4 L237.37,306.94 L237.49,307.05 L237.61,306.5 L237.72,305.87 L237.84,308.22 L237.96,305.57 L238.08,307.39 L238.2,305.87 L238.32,308.22 L238.44,308.72 L238.55,308.59 L238.67,306.83 L238.79,307.39 L238.91,307.74 L239.03,307.27 L239.15,306.08 L239.27,308.22 L239.38,308.85 L239.5,307.5 L239.62,309.5 L239.74,308.47 L239.86,308.22 L239.98,308.59 L240.1,309.92 L240.22,310.64 L240.33,307.86 L240.45,309.24 L240.57,307.16 L240.69,308.97 L240.81,308.34 L240.93,310.49 L241.05,311.71 L241.16,308.97 L241.28,308.59 L241.4,308.97 L241.52,309.24 L241.64,309.11 L241.76,310.34 L241.88,309.5 L241.99,308.22 L242.11,310.93 L242.23,307.74 L242.35,310.78 L242.47,308.59 L242.59,310.06 L242.71,307.86 L242.82,312.54 L242.94,308.34 L243.06,312.89 L243.18,310.64 L243.3,311.09 L243.42,310.93 L243.54,310.64 L243.65,310.49 L243.77,311.4 L243.89,308.47 L244.01,312.72 L244.13,310.93 L244.25,310.2 L244.37,312.72 L244.48,311.55 L244.6,309.24 L244.72,310.93 L244.84,311.24 L244.96,310.93 L245.08,311.24 L245.2,309.37 L245.31,310.49 L245.43,311.55 L245.55,313.07 L245.67,314.99 L245.79,311.09 L245.91,310.64 L246.03,311.55 L246.15,311.71 L246.26,310.78 L246.38,312.54 L246.5,314.58 L246.62,312.89 L246.74,312.37 L246.86,313.99 L246.98,313.62 L247.09,314.58 L247.21,311.24 L247.33,312.21 L247.45,309.37 L247.57,314.38 L247.69,312.21 L247.81,314.58 L247.92,316.3 L248.04,313.8 L248.16,313.62 L248.28,311.88 L248.4,314.38 L248.52,315.63 L248.64,313.8 L248.75,312.89 L248.87,312.04 L248.99,312.54 L249.11,311.71 L249.23,313.43 L249.35,315.41 L249.47,312.89 L249.58,312.89 L249.7,316.53 L249.82,313.07 L249.94,312.89 L250.06,316.77 L250.18,311.88 L250.3,312.54 L250.41,311.88 L250.53,312.37 L250.65,311.88 L250.77,312.72 L250.89,314.99 L251.01,316.77 L251.13,313.43 L251.25,311.71 L251.36,315.85 L251.48,311.09 L251.6,314.99 L251.72,312.72 L251.84,313.99 L251.96,315.41 L252.08,313.62 L252.19,316.07 L252.31,316.07 L252.43,316.77 L252.55,314.99 L252.67,314.38 L252.79,314.19 L252.91,318.02 L253.02,314.99 L253.14,311.55 L253.26,314.58 L253.38,315.41 L253.5,314.19 L253.62,315.63 L253.74,314.79 L253.85,316.07 L253.97,317.5 L254.09,314.79 L254.21,317.25 L254.33,315.2 L254.45,314.38 L254.57,314.19 L254.68,315.63 L254.8,316.07 L254.92,316.3 L255.04,315.2 L255.16,315.63 L255.28,315.85 L255.4,315.2 L255.51,318.83 L255.63,319.11 L255.75,316.07 L255.87,314.19 L255.99,317.76 L256.11,315.63 L256.23,314.58 L256.34,318.02 L256.46,318.55 L256.58,317.5 L256.7,320.95 L256.82,315.63 L256.94,315.2 L257.06,317.5 L257.17,315.41 L257.29,315.2 L257.41,318.28 L257.53,316.07 L257.65,315.2 L257.77,319.11 L257.89,321.28 L258.01,317.25 L258.12,317.76 L258.24,316.53 L258.36,319.11 L258.48,318.55 L258.6,318.83 L258.72,316.53 L258.84,314.38 L258.95,320 L259.07,320.31 L259.19,319.4 L259.31,320.62 L259.43,316.3 L259.55,316.53 L259.67,319.69 L259.78,318.28 L259.9,317.5 L260.02,318.83 L260.14,319.69 L260.26,319.11 L260.38,317.5 L260.5,319.4 L260.61,316.77 L260.73,320.62 L260.85,319.11 L260.97,316.3 L261.09,319.4 L261.21,316.53 L261.33,316.53 L261.44,318.28 L261.56,316.77 L261.68,316.77 L261.8,315.2 L261.92,314.79 L262.04,318.55 L262.16,315.85 L262.27,318.83 L262.39,318.83 L262.51,318.28 L262.63,317.25 L262.75,318.55 L262.87,321.98 L262.99,323.1 L263.11,317.5 L263.22,316.77 L263.34,320 L263.46,314.99 L263.58,317.01 L263.7,320.62 L263.82,321.98 L263.94,318.28 L264.05,317.76 L264.17,318.28 L264.29,320 L264.41,319.4 L264.53,321.98 L264.65,320 L264.77,321.63 L264.88,323.1 L265,318.55 L265.12,325.21 L265.24,321.98 L265.36,322.71 L265.48,321.63 L265.6,320 L265.71,323.9 L265.83,323.1 L265.95,316.77 L266.07,318.83 L266.19,320.95 L266.31,320.62 L266.43,319.4 L266.54,323.9 L266.66,321.28 L266.78,320 L266.9,318.55 L267.02,323.9 L267.14,318.28 L267.26,320.62 L267.37,321.28 L267.49,318.02 L267.61,320 L267.73,319.11 L267.85,319.69 L267.97,323.9 L268.09,321.28 L268.2,321.28 L268.32,323.1 L268.44,322.34 L268.56,319.4 L268.68,320 L268.8,320.62 L268.92,323.49 L269.03,321.28 L269.15,324.32 L269.27,323.1 L269.39,321.63 L269.51,323.49 L269.63,320 L269.75,323.1 L269.87,320.62 L269.98,323.49 L270.1,318.28 L270.22,318.83 L270.34,323.49 L270.46,319.11 L270.58,320.95 L270.7,320 L270.81,318.55 L270.93,320.95 L271.05,322.71 L271.17,323.49 L271.29,323.9 L271.41,322.71 L271.53,323.49 L271.64,323.1 L271.76,323.9 L271.88,320.62 L272,320.95 L272.12,324.32 L272.24,323.1 L272.36,321.28 L272.47,324.32 L272.59,324.32 L272.71,325.21 L272.83,325.21 L272.95,321.28 L273.07,324.32 L273.19,320 L273.3,323.9 L273.42,325.21 L273.54,322.71 L273.66,326.67 L273.78,318.83 L273.9,323.49 L274.02,320.95 L274.13,324.32 L274.25,324.32 L274.37,321.28 L274.49,325.68 L274.61,326.67 L274.73,320.95 L274.85,320.62 L274.96,324.32 L275.08,324.76 L275.2,323.49 L275.32,323.49 L275.44,320.62 L275.56,323.9 L275.68,325.68 L275.8,327.19 L275.91,328.31 L276.03,324.32 L276.15,325.21 L276.27,325.21 L276.39,325.21 L276.51,326.67 L276.63,324.76 L276.74,323.1 L276.86,323.49 L276.98,323.49 L277.1,323.1 L277.22,323.1 L277.34,327.74 L277.46,325.21 L277.57,327.74 L277.69,324.32 L277.81,327.19 L277.93,324.76 L278.05,323.9 L278.17,327.19 L278.29,324.76 L278.4,319.69 L278.52,328.31 L278.64,324.32 L278.76,323.9 L278.88,327.74 L279,325.68 L279.12,326.67 L279.23,327.19 L279.35,320.31 L279.47,324.76 L279.59,323.9 L279.71,322.71 L279.83,326.16 L279.95,325.21 L280.06,328.31 L280.18,328.31 L280.3,324.76 L280.42,329.54 L280.54,321.28 L280.66,328.91 L280.78,321.63 L280.89,322.71 L281.01,324.76 L281.13,326.16 L281.25,323.9 L281.37,323.1 L281.49,328.31 L281.61,323.1 L281.73,323.1 L281.84,326.16 L281.96,323.49 L282.08,323.49 L282.2,322.71 L282.32,321.28 L282.44,325.21 L282.56,324.76 L282.67,325.68 L282.79,328.31 L282.91,325.68 L283.03,325.21 L283.15,323.49 L283.27,325.68 L283.39,322.34 L283.5,326.67 L283.62,326.16 L283.74,324.76 L283.86,330.19 L283.98,323.49 L284.1,326.67 L284.22,326.16 L284.33,325.21 L284.45,323.1 L284.57,323.9 L284.69,325.21 L284.81,324.76 L284.93,326.67 L285.05,322.71 L285.16,324.32 L285.28,325.68 L285.4,325.68 L285.52,328.91 L285.64,330.89 L285.76,331.62 L285.88,324.76 L285.99,325.21 L286.11,328.31 L286.23,325.68 L286.35,326.16 L286.47,326.67 L286.59,328.91 L286.71,326.67 L286.82,325.21 L286.94,330.89 L287.06,327.74 L287.18,329.54 L287.3,324.32 L287.42,324.76 L287.54,326.16 L287.66,326.16 L287.77,326.16 L287.89,325.21 L288.01,324.76 L288.13,323.1 L288.25,326.67 L288.37,321.98 L288.49,326.16 L288.6,330.89 L288.72,325.68 L288.84,326.16 L288.96,328.31 L289.08,330.89 L289.2,330.19 L289.32,327.74 L289.43,326.67 L289.55,337.22 L289.67,328.31 L289.79,328.91 L289.91,323.49 L290.03,326.16 L290.15,326.67 L290.26,329.54 L290.38,329.54 L290.5,333.23 L290.62,322.71 L290.74,325.68 L290.86,325.68 L290.98,324.76 L291.09,326.16 L291.21,328.91 L291.33,326.67 L291.45,326.67 L291.57,328.91 L291.69,326.16 L291.81,325.21 L291.92,325.68 L292.04,329.54 L292.16,331.62 L292.28,332.4 L292.4,324.32 L292.52,326.16 L292.64,326.16 L292.75,330.19 L292.87,332.4 L292.99,329.54 L293.11,329.54 L293.23,325.68 L293.35,329.54 L293.47,329.54 L293.59,328.91 L293.7,328.31 L293.82,329.54 L293.94,329.54 L294.06,332.4 L294.18,330.89 L294.3,326.16 L294.42,330.89 L294.53,325.68 L294.65,330.89 L294.77,328.31 L294.89,331.62 L295.01,327.19 L295.13,329.54 L295.25,327.19 L295.36,331.62 L295.48,332.4 L295.6,330.89 L295.72,332.4 L295.84,330.19 L295.96,327.19 L296.08,328.91 L296.19,328.91 L296.31,325.68 L296.43,333.23 L296.55,326.67 L296.67,328.91 L296.79,329.54 L296.91,327.74 L297.02,329.54 L297.14,325.68 L297.26,327.74 L297.38,328.31 L297.5,334.12 L297.62,328.91 L297.74,335.07 L297.85,329.54 L297.97,329.54 L298.09,332.4 L298.21,328.31 L298.33,330.89 L298.45,327.19 L298.57,332.4 L298.69,327.74 L298.8,327.19 L298.92,326.67 L299.04,327.74 L299.16,332.4 L299.28,330.19 L299.4,327.19 L299.52,332.4 L299.63,330.89 L299.75,329.54 L299.87,333.23 L299.99,325.68 L300.11,328.31 L300.23,329.54 L300.35,332.4 L300.46,330.89 L300.58,326.67 L300.7,328.91 L300.82,330.19 L300.94,328.91 L301.06,331.62 L301.18,326.16 L301.29,326.67 L301.41,330.89 L301.53,325.21 L301.65,331.62 L301.77,329.54 L301.89,326.67 L302.01,327.19 L302.12,333.23 L302.24,337.22 L302.36,328.91 L302.48,330.19 L302.6,327.74 L302.72,333.23 L302.84,328.31 L302.95,338.45 L303.07,334.12 L303.19,330.89 L303.31,337.22 L303.43,324.76 L303.55,334.12 L303.67,329.54 L303.78,333.23 L303.9,329.54 L304.02,330.89 L304.14,328.91 L304.26,329.54 L304.38,328.91 L304.5,329.54 L304.62,331.62 L304.73,328.91 L304.85,333.23 L304.97,325.21 L305.09,330.89 L305.21,335.07 L305.33,334.12 L305.45,329.54 L305.56,328.91 L305.68,333.23 L305.8,329.54 L305.92,327.74 L306.04,328.91 L306.16,331.62 L306.28,330.19 L306.39,329.54 L306.51,336.1 L306.63,332.4 L306.75,330.89 L306.87,337.22 L306.99,334.12 L307.11,334.12 L307.22,339.8 L307.34,330.19 L307.46,329.54 L307.58,332.4 L307.7,326.16 L307.82,328.91 L307.94,328.31 L308.05,333.23 L308.17,330.19 L308.29,329.54 L308.41,332.4 L308.53,331.62 L308.65,338.45 L308.77,341.31 L308.88,326.16 L309,331.62 L309.12,330.19 L309.24,330.19 L309.36,335.07 L309.48,334.12 L309.6,332.4 L309.71,331.62 L309.83,331.62 L309.95,329.54 L310.07,330.89 L310.19,330.19 L310.31,330.89 L310.43,333.23 L310.54,327.19 L310.66,333.23 L310.78,335.07 L310.9,334.12 L311.02,335.07 L311.14,335.07 L311.26,335.07 L311.38,330.89 L311.49,333.23 L311.61,335.07 L311.73,332.4 L311.85,331.62 L311.97,333.23 L312.09,332.4 L312.21,338.45 L312.32,330.19 L312.44,330.89 L312.56,334.12 L312.68,336.1 L312.8,331.62 L312.92,330.89 L313.04,332.4 L313.15,330.19 L313.27,328.31 L313.39,333.23 L313.51,336.1 L313.63,330.19 L313.75,327.74 L313.87,330.89 L313.98,332.4 L314.1,333.23 L314.22,334.12 L314.34,330.89 L314.46,330.89 L314.58,331.62 L314.7,334.12 L314.81,334.12 L314.93,338.45 L315.05,331.62 L315.17,335.07 L315.29,333.23 L315.41,335.07 L315.53,333.23 L315.64,338.45 L315.76,330.19 L315.88,335.07 L316,333.23 L316.12,331.62 L316.24,333.23 L316.36,338.45 L316.47,331.62 L316.59,334.12 L316.71,336.1 L316.83,330.89 L316.95,330.89 L317.07,332.4 L317.19,334.12 L317.31,343.03 L317.42,331.62 L317.54,337.22 L317.66,330.89 L317.78,338.45 L317.9,343.03 L318.02,331.62 L318.14,328.31 L318.25,334.12 L318.37,336.1 L318.49,329.54 L318.61,329.54 L318.73,336.1 L318.85,332.4 L318.97,336.1 L319.08,335.07 L319.2,330.89 L319.32,336.1 L319.44,330.89 L319.56,328.31 L319.68,337.22 L319.8,339.8 L319.91,337.22 L320.03,327.74 L320.15,335.07 L320.27,330.89 L320.39,328.91 L320.51,330.19" stroke="#1a1aee"/>
<path d="M212.7,251.59 L212.82,252.42 L212.94,253.27 L213.06,254.14 L213.17,255.02 L213.29,255.93 L213.41,256.84 L213.53,257.78 L213.65,258.73 L213.77,259.7 L213.89,260.68 L214,261.68 L214.12,262.72 L214.24,263.78 L214.36,264.86 L214.48,265.96 L214.6,267.07 L214.72,268.19 L214.83,269.31 L214.95,270.42 L215.07,271.52 L215.19,272.63 L215.31,273.79 L215.43,274.97 L215.55,276.14 L215.66,277.24 L215.78,278.27 L215.9,279.16 L216.02,279.98 L216.14,280.78 L216.26,282.78 L216.38,282.2 L216.5,283.24 L216.61,283.26 L216.73,283.77 L216.85,285.5 L216.97,286.39 L217.09,287.08 L217.21,287.04 L217.33,286.77 L217.44,288.66 L217.56,287.83 L217.68,290.62 L217.8,289.92 L217.92,289.96 L218.04,290.04 L218.16,289.7 L218.27,291.32 L218.39,293.14 L218.51,290.54 L218.63,294.04 L218.75,290.74 L218.87,293.14 L218.99,292.29 L219.1,294.63 L219.22,294.1 L219.34,295.08 L219.46,293.23 L219.58,295.54 L219.7,296.08 L219.82,294.47 L219.93,295.31 L220.05,296.39 L220.17,296.45 L220.29,296.77 L220.41,296.77 L220.53,297.5 L220.65,299.57 L220.76,298.2 L220.88,298.57 L221,299.02 L221.12,297.99 L221.24,298.42 L221.36,299.26 L221.48,297.78 L221.59,299.98 L221.71,298.49 L221.83,300.06 L221.95,299.9 L222.07,299.02 L222.19,298.57 L222.31,298.64 L222.43,299.26 L222.54,302.44 L222.66,300.93 L222.78,301.38 L222.9,302.05 L223.02,302.44 L223.14,301.02 L223.26,303.06 L223.37,302.54 L223.49,302.64 L223.61,302.34 L223.73,301.29 L223.85,303.27 L223.97,304.51 L224.09,302.64 L224.2,304.99 L224.32,306.01 L224.44,302.44 L224.56,303.49 L224.68,303.71 L224.8,304.51 L224.92,304.99 L225.03,301.76 L225.15,306.01 L225.27,305.49 L225.39,303.82 L225.51,306.01 L225.63,306.55 L225.75,305.11 L225.86,304.27 L225.98,304.87 L226.1,306.01 L226.22,307.26 L226.34,307.7 L226.46,306.27 L226.58,304.99 L226.69,308.97 L226.81,308.97 L226.93,308.65 L227.05,308.01 L227.17,306.27 L227.29,308.97 L227.41,309.14 L227.52,307.7 L227.64,308.17 L227.76,307.7 L227.88,310.38 L228,310.76 L228.12,308.48 L228.24,308.97 L228.36,309.49 L228.47,311.97 L228.59,312.62 L228.71,308.65 L228.83,312.18 L228.95,312.18 L229.07,309.14 L229.19,308.17 L229.3,311.97 L229.42,313.54 L229.54,311.15 L229.66,308.65 L229.78,308.97 L229.9,310.76 L230.02,310.38 L230.13,310.02 L230.25,313.3 L230.37,311.55 L230.49,310.76 L230.61,309.66 L230.73,310.76 L230.85,311.55 L230.96,312.84 L231.08,311.97 L231.2,315.32 L231.32,315.88 L231.44,312.18 L231.56,312.62 L231.68,315.05 L231.79,311.97 L231.91,314.02 L232.03,313.54 L232.15,314.27 L232.27,315.88 L232.39,312.84 L232.51,316.77 L232.62,313.07 L232.74,317.72 L232.86,314.27 L232.98,316.77 L233.1,315.6 L233.22,318.05 L233.34,317.39 L233.45,316.77 L233.57,314.53 L233.69,318.75 L233.81,315.88 L233.93,317.08 L234.05,315.88 L234.17,314.02 L234.29,318.4 L234.4,322.93 L234.52,318.75 L234.64,319.11 L234.76,317.08 L234.88,317.72 L235,317.08 L235.12,318.75 L235.23,316.77 L235.35,316.46 L235.47,314.79 L235.59,317.39 L235.71,318.4 L235.83,319.11 L235.95,317.08 L236.06,319.11 L236.18,314.27 L236.3,318.4 L236.42,319.11 L236.54,321.98 L236.66,318.4 L236.78,318.4 L236.89,315.6 L237.01,319.48 L237.13,319.48 L237.25,318.05 L237.37,317.72 L237.49,317.72 L237.61,321.09 L237.72,315.88 L237.84,316.77 L237.96,316.17 L238.08,318.05 L238.2,319.48 L238.32,320.67 L238.44,325.68 L238.55,320.67 L238.67,318.4 L238.79,323.44 L238.91,323.96 L239.03,320.67 L239.15,321.98 L239.27,318.75 L239.38,323.96 L239.5,322.93 L239.62,321.98 L239.74,320.26 L239.86,321.09 L239.98,323.44 L240.1,318.05 L240.22,319.87 L240.33,320.26 L240.45,322.45 L240.57,319.11 L240.69,323.44 L240.81,325.08 L240.93,321.98 L241.05,326.96 L241.16,320.67 L241.28,320.67 L241.4,323.44 L241.52,324.51 L241.64,322.45 L241.76,323.96 L241.88,319.11 L241.99,323.44 L242.11,322.93 L242.23,324.51 L242.35,319.87 L242.47,322.93 L242.59,321.53 L242.71,332.87 L242.82,323.96 L242.94,324.51 L243.06,319.48 L243.18,323.96 L243.3,322.93 L243.42,323.44 L243.54,325.08 L243.65,323.44 L243.77,322.45 L243.89,322.45 L244.01,321.98 L244.13,325.68 L244.25,321.09 L244.37,319.87 L244.48,320.26 L244.6,321.09 L244.72,322.93 L244.84,326.3 L244.96,333.99 L245.08,324.51 L245.2,330 L245.31,325.08 L245.43,327.66 L245.55,324.51 L245.67,326.3 L245.79,323.44 L245.91,327.66 L246.03,328.39 L246.15,326.96 L246.26,326.3 L246.38,327.66 L246.5,323.44 L246.62,328.39 L246.74,326.96 L246.86,321.09 L246.98,326.96 L247.09,323.44 L247.21,322.45 L247.33,323.44 L247.45,331.84 L247.57,323.44 L247.69,330.89 L247.81,328.39 L247.92,330.89 L248.04,323.44 L248.16,324.51 L248.28,327.66 L248.4,328.39 L248.52,325.68 L248.64,327.66 L248.75,325.68 L248.87,331.84 L248.99,329.17 L249.11,325.08 L249.23,326.96 L249.35,335.21 L249.47,335.21 L249.58,326.96 L249.7,325.68 L249.82,327.66 L249.94,326.96 L250.06,325.08 L250.18,325.68 L250.3,325.08 L250.41,330 L250.53,331.84 L250.65,324.51 L250.77,330 L250.89,329.17 L251.01,328.39 L251.13,326.3 L251.25,323.44 L251.36,329.17 L251.48,324.51 L251.6,325.68 L251.72,328.39 L251.84,328.39 L251.96,329.17 L252.08,328.39 L252.19,324.51 L252.31,325.08 L252.43,333.99 L252.55,331.84 L252.67,327.66 L252.79,327.66 L252.91,333.99 L253.02,333.99 L253.14,330.89 L253.26,333.99 L253.38,329.17 L253.5,326.96 L253.62,328.39 L253.74,333.99 L253.85,330.89 L253.97,331.84 L254.09,330.89 L254.21,330 L254.33,329.17 L254.45,333.99 L254.57,331.84 L254.68,338.08 L254.8,332.87 L254.92,333.99 L255.04,331.84 L255.16,328.39 L255.28,328.39 L255.4,330.89 L255.51,335.21 L255.63,331.84 L255.75,330 L255.87,330 L255.99,327.66 L256.11,339.8 L256.23,335.21 L256.34,328.39 L256.46,325.08 L256.58,330 L256.7,330 L256.82,332.87 L256.94,333.99 L257.06,326.96 L257.17,327.66 L257.29,338.08 L257.41,338.08 L257.53,331.84 L257.65,331.84 L257.77,339.8 L257.89,338.08 L258.01,330.89 L258.12,330.89 L258.24,330 L258.36,331.84 L258.48,332.87 L258.6,330 L258.72,329.17 L258.84,330 L258.95,336.57 L259.07,326.3 L259.19,325.68 L259.31,335.21 L259.43,333.99 L259.55,331.84 L259.67,331.84 L259.78,336.57 L259.9,330.89 L260.02,329.17 L260.14,341.78 L260.26,330 L260.38,333.99 L260.5,333.99 L260.61,332.87 L260.73,326.96 L260.85,338.08 L260.97,331.84 L261.09,333.99 L261.21,332.87 L261.33,332.87 L261.44,330.89 L261.56,332.87 L261.68,331.84 L261.8,330.89 L261.92,330.89 L262.04,338.08 L262.16,329.17 L262.27,333.99 L262.39,329.17 L262.51,335.21 L262.63,335.21 L262.75,336.57 L262.87,333.99 L262.99,339.8 L263.11,332.87 L263.22,346.99 L263.34,333.99 L263.46,332.87 L263.58,338.08 L263.7,338.08 L263.82,341.78 L263.94,335.21 L264.05,329.17 L264.17,333.99 L264.29,339.8 L264.41,330 L264.53,333.99 L264.65,341.78 L264.77,330.89 L264.88,341.78 L265,333.99 L265.12,331.84 L265.24,333.99 L265.36,341.78 L265.48,332.87 L265.6,335.21 L265.71,331.84 L265.83,335.21 L265.95,333.99 L266.07,336.57 L266.19,341.78 L266.31,330 L266.43,335.21 L266.54,333.99 L266.66,333.99 L266.78,335.21 L266.9,341.78 L267.02,344.13 L267.14,331.84 L267.26,331.84 L267.37,339.8 L267.49,336.57 L267.61,329.17 L267.73,344.13 L267.85,333.99 L267.97,336.57 L268.09,330.89 L268.2,339.8 L268.32,335.21 L268.44,336.57 L268.56,329.17 L268.68,329.17 L268.8,339.8 L268.92,330.89 L269.03,335.21 L269.15,332.87 L269.27,341.78 L269.39,333.99 L269.51,333.99 L269.63,330.89 L269.75,336.57 L269.87,336.57 L269.98,333.99 L270.1,344.13 L270.22,339.8 L270.34,344.13 L270.46,338.08 L270.58,339.8 L270.7,335.21 L270.81,333.99 L270.93,336.57 L271.05,339.8 L271.17,341.78 L271.29,328.39 L271.41,344.13 L271.53,336.57 L271.64,336.57 L271.76,332.87 L271.88,330.89 L272,330 L272.12,330 L272.24,335.21 L272.36,335.21 L272.47,333.99 L272.59,338.08 L272.71,330 L272.83,338.08 L272.95,335.21 L273.07,332.87 L273.19,331.84 L273.3,344.13 L273.42,332.87 L273.54,346.99 L273.66,338.08 L273.78,338.08 L273.9,331.84 L274.02,348.5 L274.13,331.84 L274.25,338.08 L274.37,336.57 L274.49,348.5 L274.61,331.84 L274.73,330 L274.85,348.5 L274.96,348.5 L275.08,338.08 L275.2,333.99 L275.32,331.84 L275.44,331.84 L275.56,335.21 L275.68,336.57 L275.8,339.8 L275.91,346.99 L276.03,332.87 L276.15,336.57 L276.27,344.13 L276.39,339.8 L276.51,336.57 L276.63,339.8 L276.74,330 L276.86,335.21 L276.98,338.08 L277.1,332.87 L277.22,339.8 L277.34,335.21 L277.46,341.78 L277.57,338.08 L277.69,344.13 L277.81,346.99 L277.93,346.99 L278.05,341.78 L278.17,346.99 L278.29,336.57 L278.4,344.13 L278.52,333.99 L278.64,336.57 L278.76,332.87 L278.88,344.13 L279,339.8 L279.12,331.84 L279.23,341.78 L279.35,336.57 L279.47,332.87 L279.59,339.8 L279.71,339.8 L279.83,330 L279.95,333.99 L280.06,344.13 L280.18,338.08 L280.3,338.08 L280.42,344.13 L280.54,341.78 L280.66,339.8 L280.78,338.08 L280.89,346.99 L281.01,338.08 L281.13,339.8 L281.25,336.57 L281.37,333.99 L281.49,339.8 L281.61,339.8 L281.73,346.99 L281.84,336.57 L281.96,341.78 L282.08,339.8 L282.2,332.87 L282.32,339.8 L282.44,341.78 L282.56,341.78 L282.67,339.8 L282.79,330 L282.91,338.08 L283.03,335.21 L283.15,331.84 L283.27,333.99 L283.39,339.8 L283.5,339.8 L283.62,336.57 L283.74,333.99 L283.86,339.8 L283.98,344.13 L284.1,338.08 L284.22,341.78 L284.33,344.13 L284.45,332.87 L284.57,344.13 L284.69,332.87 L284.81,341.78 L284.93,336.57 L285.05,338.08 L285.16,341.78 L285.28,331.84 L285.4,335.21 L285.52,339.8 L285.64,336.57 L285.76,339.8 L285.88,336.57 L285.99,339.8 L286.11,339.8 L286.23,346.99 L286.35,344.13 L286.47,335.21 L286.59,341.78 L286.71,338.08 L286.82,338.08 L286.94,333.99 L287.06,333.99 L287.18,341.78 L287.3,341.78 L287.42,341.78 L287.54,338.08 L287.66,348.5 L287.77,338.08 L287.89,346.99 L288.01,346.99 L288.13,348.5 L288.25,341.78 L288.37,344.13 L288.49,339.8 L288.6,341.78 L288.72,338.08 L288.84,344.13 L288.96,336.57 L289.08,341.78 L289.2,346.99 L289.32,341.78 L289.43,338.08 L289.55,333.99 L289.67,346.99 L289.79,348.5 L289.91,336.57 L290.03,339.8 L290.15,333.99 L290.26,331.84 L290.38,339.8 L290.5,341.78 L290.62,339.8 L290.74,348.5 L290.86,335.21 L290.98,348.5 L291.09,348.5 L291.21,344.13 L291.33,344.13 L291.45,344.13 L291.57,341.78 L291.69,341.78 L291.81,348.5 L291.92,339.8 L292.04,338.08 L292.16,341.78 L292.28,335.21 L292.4,335.21 L292.52,346.99 L292.64,344.13 L292.75,338.08 L292.87,346.99 L292.99,338.08 L293.11,336.57 L293.23,336.57 L293.35,339.8 L293.47,339.8 L293.59,338.08 L293.7,338.08 L293.82,346.99 L293.94,338.08 L294.06,348.5 L294.18,346.99 L294.3,336.57 L294.42,346.99 L294.53,338.08 L294.65,339.8 L294.77,341.78 L294.89,335.21 L295.01,344.13 L295.13,336.57 L295.25,339.8 L295.36,339.8 L295.48,332.87 L295.6,338.08 L295.72,341.78 L295.84,341.78 L295.96,348.5 L296.08,344.13 L296.19,339.8 L296.31,339.8 L296.43,331.84 L296.55,348.5 L296.67,339.8 L296.79,341.78 L296.91,336.57 L297.02,346.99 L297.14,338.08 L297.26,335.21 L297.38,341.78 L297.5,344.13 L297.62,338.08 L297.74,341.78 L297.85,346.99 L297.97,338.08 L298.09,341.78 L298.21,339.8 L298.33,333.99 L298.45,348.5 L298.57,346.99 L298.69,338.08 L298.8,336.57 L298.92,338.08 L299.04,341.78 L299.16,348.5 L299.28,336.57 L299.4,341.78 L299.52,333.99 L299.63,336.57 L299.75,339.8 L299.87,346.99 L299.99,339.8 L300.11,339.8 L300.23,348.5 L300.35,344.13 L300.46,344.13 L300.58,346.99 L300.7,338.08 L300.82,339.8 L300.94,333.99 L301.06,336.57 L301.18,344.13 L301.29,344.13 L301.41,344.13 L301.53,341.78 L301.65,336.57 L301.77,348.5 L301.89,339.8 L302.01,346.99 L302.12,344.13 L302.24,341.78 L302.36,338.08 L302.48,333.99 L302.6,339.8 L302.72,339.8 L302.84,348.5 L302.95,338.08 L303.07,344.13 L303.19,338.08 L303.31,336.57 L303.43,344.13 L303.55,339.8 L303.67,341.78 L303.78,344.13 L303.9,344.13 L304.02,338.08 L304.14,338.08 L304.26,346.99 L304.38,344.13 L304.5,341.78 L304.62,346.99 L304.73,348.5 L304.85,335.21 L304.97,348.5 L305.09,338.08 L305.21,341.78 L305.33,344.13 L305.45,338.08 L305.56,348.5 L305.68,346.99 L305.8,348.5 L305.92,346.99 L306.04,348.5 L306.16,338.08 L306.28,344.13 L306.39,341.78 L306.51,339.8 L306.63,346.99 L306.75,344.13 L306.87,348.5 L306.99,346.99 L307.11,346.99 L307.22,338.08 L307.34,344.13 L307.46,348.5 L307.58,341.78 L307.7,346.99 L307.82,339.8 L307.94,341.78 L308.05,346.99 L308.17,333.99 L308.29,344.13 L308.41,336.57 L308.53,344.13 L308.65,344.13 L308.77,341.78 L308.88,346.99 L309,341.78 L309.12,338.08 L309.24,346.99 L309.36,341.78 L309.48,339.8 L309.6,344.13 L309.71,335.21 L309.83,341.78 L309.95,341.78 L310.07,344.13 L310.19,348.5 L310.31,348.5 L310.43,344.13 L310.54,338.08 L310.66,336.57 L310.78,348.5 L310.9,344.13 L311.02,338.08 L311.14,344.13 L311.26,336.57 L311.38,348.5 L311.49,348.5 L311.61,348.5 L311.73,339.8 L311.85,348.5 L311.97,338.08 L312.09,344.13 L312.21,344.13 L312.32,346.99 L312.44,335.21 L312.56,341.78 L312.68,338.08 L312.8,339.8 L312.92,348.5 L313.04,348.5 L313.15,346.99 L313.27,348.5 L313.39,341.78 L313.51,346.99 L313.63,348.5 L313.75,344.13 L313.87,346.99 L313.98,348.5 L314.1,341.78 L314.22,346.99 L314.34,348.5 L314.46,339.8 L314.58,346.99 L314.7,341.78 L314.81,344.13 L314.93,348.5 L315.05,344.13 L315.17,348.5 L315.29,344.13 L315.41,332.87 L315.53,339.8 L315.64,339.8 L315.76,348.5 L315.88,341.78 L316,341.78 L316.12,341.78 L316.24,333.99 L316.36,338.08 L316.47,346.99 L316.59,344.13 L316.71,338.08 L316.83,344.13 L316.95,348.5 L317.07,341.78 L317.19,339.8 L317.31,339.8 L317.42,338.08 L317.54,348.5 L317.66,348.5 L317.78,348.5 L317.9,341.78 L318.02,339.8 L318.14,338.08 L318.25,344.13 L318.37,346.99 L318.49,348.5 L318.61,344.13 L318.73,346.99 L318.85,344.13 L318.97,348.5 L319.08,348.5 L319.2,331.84 L319.32,338.08 L319.44,341.78 L319.56,344.13 L319.68,341.78 L319.8,339.8 L319.91,344.13 L320.03,344.13 L320.15,344.13 L320.27,346.99 L320.39,344.13 L320.51,348.5" stroke="#f01818"/>
</g>
<path d="M212.7,249.5 V342.5 H320.4" fill="none" stroke="#111" stroke-width="1.3"/>
<path d="M210.2,251 H212.7 M210.2,280.6 H212.7 M211.4,271.69 H212.7 M211.4,266.48 H212.7 M211.4,262.78 H212.7 M211.4,259.91 H212.7 M211.4,257.57 H212.7 M211.4,255.59 H212.7 M211.4,253.87 H212.7 M211.4,252.35 H212.7 M210.2,310.2 H212.7 M211.4,301.29 H212.7 M211.4,296.08 H212.7 M211.4,292.38 H212.7 M211.4,289.51 H212.7 M211.4,287.17 H212.7 M211.4,285.19 H212.7 M211.4,283.47 H212.7 M211.4,281.95 H212.7 M210.2,339.8 H212.7 M211.4,330.89 H212.7 M211.4,325.68 H212.7 M211.4,321.98 H212.7 M211.4,319.11 H212.7 M211.4,316.77 H212.7 M211.4,314.79 H212.7 M211.4,313.07 H212.7 M211.4,311.55 H212.7 M211.4,341.15 H212.7 M212.7,342.5 V344.7 M233.45,342.5 V343.8 M254.21,342.5 V344.7 M274.96,342.5 V343.8 M295.72,342.5 V344.7 M316.47,342.5 V343.8" fill="none" stroke="#111" stroke-width="0.9"/>
<g font-family="Liberation Sans, sans-serif" font-weight="bold" font-size="7.5" fill="#111" text-anchor="end">
<text x="209.6" y="253.1">1</text>
<text x="209.6" y="282.7">0.1</text>
<text x="209.6" y="312.3">0.01</text>
<text x="209.6" y="341.9">1E-3</text>
</g>
<g font-family="Liberation Sans, sans-serif" font-weight="bold" font-size="7.5" fill="#111" text-anchor="middle">
<text x="212.4" y="351.7">0</text>
<text x="253.91" y="351.7">35</text>
<text x="295.42" y="351.7">70</text>
</g>
<text x="266.2" y="360.2" font-family="Liberation Sans, sans-serif" font-weight="bold" font-size="10.2" letter-spacing="0.25" fill="#111" text-anchor="middle">Time (ns)</text>
<text transform="translate(188.3,301.1) rotate(-90)" font-family="Liberation Sans, sans-serif" font-weight="bold" font-size="9.15" fill="#111" text-anchor="middle">PL Intensity (a.u.)</text>
<path d="M28.3,3.5 H320.4 V126.5 H28.3 Z M28.3,126.5 H320.4 V249.5 H28.3 Z M28.3,249.5 H320.4 V372 H28.3 Z" fill="none" stroke="#111" stroke-width="1.3"/>
<path d="M25,8.8 H28.3 M320.4,8.8 H323.7 M25,38.2 H28.3 M320.4,38.2 H323.7 M25,67.6 H28.3 M320.4,67.6 H323.7 M25,97 H28.3 M320.4,97 H323.7 M25,126.4 H28.3 M320.4,126.4 H323.7 M25,131.5 H28.3 M320.4,131.5 H323.7 M25,160.9 H28.3 M320.4,160.9 H323.7 M25,190.3 H28.3 M320.4,190.3 H323.7 M25,219.7 H28.3 M320.4,219.7 H323.7 M25,249.1 H28.3 M320.4,249.1 H323.7 M25,254.5 H28.3 M320.4,254.5 H323.7 M25,283.9 H28.3 M320.4,283.9 H323.7 M25,313.3 H28.3 M320.4,313.3 H323.7 M25,342.7 H28.3 M320.4,342.7 H323.7 M25,372 H28.3 M320.4,372 H323.7 M28.3,123.7 V129.3 M57.51,124.9 V128.1 M86.72,123.7 V129.3 M115.93,124.9 V128.1 M145.14,123.7 V129.3 M174.35,124.9 V128.1 M203.56,123.7 V129.3 M232.77,124.9 V128.1 M261.98,123.7 V129.3 M291.19,124.9 V128.1 M320.4,123.7 V129.3 M28.3,249.5 V253 M57.51,249.5 V251.5 M86.72,249.5 V253 M115.93,249.5 V251.5 M145.14,249.5 V253 M174.35,249.5 V251.5 M203.56,249.5 V253 M232.77,249.5 V251.5 M261.98,249.5 V253 M291.19,249.5 V251.5 M320.4,249.5 V253 M28.3,372 V375.5 M57.51,372 V374 M86.72,372 V375.5 M115.93,372 V374 M145.14,372 V375.5 M174.35,372 V374 M203.56,372 V375.5 M232.77,372 V374 M261.98,372 V375.5 M291.19,372 V374 M320.4,372 V375.5" fill="none" stroke="#111" stroke-width="1.1"/>
<g clip-path="url(#cm0)" fill="none" stroke-linejoin="round">
<path d="M104,126 L104.5,126 L105,126 L105.5,126 L106,126 L106.5,126 L107,126 L107.5,126 L108,126 L108.5,126 L109,126 L109.5,126 L110,126 L110.5,126 L111,126 L111.5,126 L112,126 L112.5,126 L113,126 L113.5,126 L114,126 L114.5,126 L115,126 L115.5,126 L116,126 L116.5,126 L117,126 L117.5,126 L118,126 L118.5,126 L119,126 L119.5,126 L120,125.97 L120.5,125.74 L121,125.47 L121.5,125.14 L122,124.76 L122.5,124.3 L123,123.77 L123.5,123.16 L124,122.44 L124.5,121.62 L125,120.68 L125.5,119.6 L126,118.38 L126.5,117.01 L127,115.47 L127.5,113.76 L128,111.86 L128.5,109.77 L129,107.48 L129.5,104.99 L130,102.29 L130.5,99.4 L131,96.3 L131.5,93.02 L132,89.55 L132.5,85.93 L133,82.16 L133.5,78.27 L134,74.29 L134.5,70.25 L135,66.18 L135.5,62.12 L136,58.11 L136.5,54.18 L137,50.39 L137.5,46.78 L138,43.38 L138.5,40.24 L139,37.4 L139.5,34.89 L140,32.75 L140.5,31 L141,29.68 L141.5,28.79 L142,28.35 L142.5,28.36 L143,28.77 L143.5,29.57 L144,30.74 L144.5,32.27 L145,34.13 L145.5,36.3 L146,38.74 L146.5,41.42 L147,44.32 L147.5,47.39 L148,50.6 L148.5,53.92 L149,57.32 L149.5,60.77 L150,64.25 L150.5,67.72 L151,71.16 L151.5,74.56 L152,77.89 L152.5,81.14 L153,84.28 L153.5,87.32 L154,90.23 L154.5,93.01 L155,95.66 L155.5,98.16 L156,100.52 L156.5,102.73 L157,104.8 L157.5,106.72 L158,108.5 L158.5,110.15 L159,111.66 L159.5,113.05 L160,114.32 L160.5,115.47 L161,116.52 L161.5,117.46 L162,118.32 L162.5,119.09 L163,119.77 L163.5,120.39 L164,120.94 L164.5,121.44 L165,121.87 L165.5,122.26 L166,122.61 L166.5,122.92 L167,123.19 L167.5,123.44 L168,123.66 L168.5,123.85 L169,124.02 L169.5,124.18 L170,124.32 L170.5,124.44 L171,124.56 L171.5,124.66 L172,124.75 L172.5,124.84 L173,124.92 L173.5,124.99 L174,125.06 L174.5,125.12 L175,125.18 L175.5,125.24 L176,125.29 L176.5,125.34 L177,125.38 L177.5,125.43 L178,125.47 L178.5,125.51 L179,125.55 L179.5,125.58 L180,125.62 L180.5,125.65 L181,125.69 L181.5,125.72 L182,125.75 L182.5,125.78 L183,125.8 L183.5,125.83 L184,125.86 L184.5,125.88 L185,125.91 L185.5,125.93 L186,125.95 L186.5,125.98 L187,126 L187.5,126 L188,126 L188.5,126 L189,126 L189.5,126 L190,126 L190.5,126 L191,126 L191.5,126 L192,126 L192.5,126 L193,126 L193.5,126 L194,126 L194.5,126 L195,126 L195.5,126 L196,126 L196.5,126 L197,126 L197.5,126 L198,126 L198.5,126 L199,126 L199.5,126 L200,126 L200.5,126 L201,126 L201.5,126 L202,126 L202.5,126 L203,126 L203.5,126 L204,126 L204.5,126 L205,126 L205.5,126 L206,126 L206.5,126 L207,126 L207.5,126 L208,126 L208.5,126 L209,126 L209.5,126 L210,126 L210.5,126 L211,126 L211.5,126 L212,126 L212.5,126 L213,126 L213.5,126 L214,126 L214.5,126 L215,126 L215.5,126 L216,126 L216.5,126 L217,126 L217.5,126 L218,126 L218.5,126 L219,126 L219.5,126 L220,126 L220.5,126 L221,126 L221.5,126 L222,126 L222.5,126 L223,126 L223.5,126 L224,126 L224.5,126 L225,126 L225.5,126 L226,126 L226.5,126 L227,126 L227.5,126 L228,126 L228.5,126 L229,126 L229.5,126 L230,126 L230.5,126 L231,126 L231.5,126 L232,126 L232.5,126 L233,126 L233.5,126 L234,126 L234.5,126 L235,126 L235.5,126 L236,126 L236.5,126 L237,126 L237.5,126 L238,126 L238.5,126 L239,126 L239.5,126 L240,126 L240.5,126 L241,126 L241.5,126 L242,126 L242.5,126 L243,126 L243.5,126 L244,126 L244.5,126 L245,126 L245.5,126 L246,126 L246.5,126 L247,126 L247.5,126 L248,126 L248.5,126 L249,126 L249.5,126 L250,126 L250.5,126 L251,126 L251.5,126 L252,126 L252.5,126 L253,126 L253.5,126 L254,126 L254.5,126 L255,126 L255.5,126 L256,126 L256.5,126 L257,126 L257.5,126 L258,126 L258.5,126 L259,126 L259.5,126 L260,126 L260.5,126 L261,126 L261.5,126" stroke="#f01818" stroke-width="1.25"/>
<path d="M104,126 L104.5,126 L105,126 L105.5,126 L106,126 L106.5,126 L107,126 L107.5,126 L108,126 L108.5,126 L109,126 L109.5,126 L110,126 L110.5,126 L111,126 L111.5,126 L112,126 L112.5,126 L113,126 L113.5,126 L114,126 L114.5,126 L115,126 L115.5,126 L116,126 L116.5,126 L117,126 L117.5,126 L118,126 L118.5,126 L119,126 L119.5,126 L120,126 L120.5,125.99 L121,125.78 L121.5,125.53 L122,125.24 L122.5,124.9 L123,124.5 L123.5,124.04 L124,123.5 L124.5,122.88 L125,122.18 L125.5,121.37 L126,120.46 L126.5,119.43 L127,118.27 L127.5,116.98 L128,115.54 L128.5,113.94 L129,112.19 L129.5,110.26 L130,108.17 L130.5,105.89 L131,103.44 L131.5,100.81 L132,98 L132.5,95.02 L133,91.88 L133.5,88.59 L134,85.16 L134.5,81.61 L135,77.96 L135.5,74.22 L136,70.44 L136.5,66.63 L137,62.82 L137.5,59.06 L138,55.36 L138.5,51.77 L139,48.32 L139.5,45.05 L140,41.99 L140.5,39.17 L141,36.63 L141.5,34.39 L142,32.48 L142.5,30.93 L143,29.75 L143.5,28.95 L144,28.55 L144.5,28.56 L145,29.01 L145.5,29.91 L146,31.23 L146.5,32.96 L147,35.05 L147.5,37.47 L148,40.18 L148.5,43.13 L149,46.3 L149.5,49.63 L150,53.08 L150.5,56.62 L151,60.21 L151.5,63.82 L152,67.42 L152.5,70.98 L153,74.49 L153.5,77.91 L154,81.24 L154.5,84.45 L155,87.54 L155.5,90.48 L156,93.29 L156.5,95.94 L157,98.43 L157.5,100.78 L158,102.96 L158.5,104.99 L159,106.87 L159.5,108.61 L160,110.2 L160.5,111.66 L161,112.99 L161.5,114.2 L162,115.3 L162.5,116.29 L163,117.19 L163.5,117.99 L164,118.71 L164.5,119.36 L165,119.94 L165.5,120.45 L166,120.92 L166.5,121.33 L167,121.7 L167.5,122.03 L168,122.32 L168.5,122.58 L169,122.82 L169.5,123.03 L170,123.23 L170.5,123.4 L171,123.56 L171.5,123.71 L172,123.84 L172.5,123.96 L173,124.07 L173.5,124.18 L174,124.27 L174.5,124.36 L175,124.45 L175.5,124.53 L176,124.61 L176.5,124.68 L177,124.74 L177.5,124.81 L178,124.87 L178.5,124.93 L179,124.98 L179.5,125.04 L180,125.09 L180.5,125.14 L181,125.19 L181.5,125.23 L182,125.28 L182.5,125.32 L183,125.36 L183.5,125.4 L184,125.43 L184.5,125.47 L185,125.51 L185.5,125.54 L186,125.57 L186.5,125.6 L187,125.64 L187.5,125.67 L188,125.69 L188.5,125.72 L189,125.75 L189.5,125.77 L190,125.8 L190.5,125.82 L191,125.85 L191.5,125.87 L192,125.89 L192.5,125.92 L193,125.94 L193.5,125.96 L194,125.98 L194.5,126 L195,126 L195.5,126 L196,126 L196.5,126 L197,126 L197.5,126 L198,126 L198.5,126 L199,126 L199.5,126 L200,126 L200.5,126 L201,126 L201.5,126 L202,126 L202.5,126 L203,126 L203.5,126 L204,126 L204.5,126 L205,126 L205.5,126 L206,126 L206.5,126 L207,126 L207.5,126 L208,126 L208.5,126 L209,126 L209.5,126 L210,126 L210.5,126 L211,126 L211.5,126 L212,126 L212.5,126 L213,126 L213.5,126 L214,126 L214.5,126 L215,126 L215.5,126 L216,126 L216.5,126 L217,126 L217.5,126 L218,126 L218.5,126 L219,126 L219.5,126 L220,126 L220.5,126 L221,126 L221.5,126 L222,126 L222.5,126 L223,126 L223.5,126 L224,126 L224.5,126 L225,126 L225.5,126 L226,126 L226.5,126 L227,126 L227.5,126 L228,126 L228.5,126 L229,126 L229.5,126 L230,126 L230.5,126 L231,126 L231.5,126 L232,126 L232.5,126 L233,126 L233.5,126 L234,126 L234.5,126 L235,126 L235.5,126 L236,126 L236.5,126 L237,126 L237.5,126 L238,126 L238.5,126 L239,126 L239.5,126 L240,126 L240.5,126 L241,126 L241.5,126 L242,126 L242.5,126 L243,126 L243.5,126 L244,126 L244.5,126 L245,126 L245.5,126 L246,126 L246.5,126 L247,126 L247.5,126 L248,126 L248.5,126 L249,126 L249.5,126 L250,126 L250.5,126 L251,126 L251.5,126 L252,126 L252.5,126 L253,126 L253.5,126 L254,126 L254.5,126 L255,126 L255.5,126 L256,126 L256.5,126 L257,126 L257.5,126 L258,126 L258.5,126 L259,126 L259.5,126 L260,126 L260.5,126 L261,126 L261.5,126" stroke="#1a1aee" stroke-width="1.25"/>
</g>
<path d="M262,248.8 H311" stroke="#d02838" stroke-width="1" opacity="0.7"/>
<text x="38" y="17.9" font-family="Liberation Serif, serif" font-weight="bold" font-size="12.3" fill="#111">(a) NC398</text>
<text x="36.9" y="142.7" font-family="Liberation Serif, serif" font-weight="bold" font-size="12.3" fill="#111">(b) NC405</text>
<text x="36.5" y="265.5" font-family="Liberation Serif, serif" font-weight="bold" font-size="12.3" fill="#111">(c) NC407</text>
<text x="222.8" y="19.1" font-family="Liberation Serif, serif" font-weight="bold" font-size="12.3" fill="#111">(d) NC398</text>
<text x="221.4" y="142.2" font-family="Liberation Serif, serif" font-weight="bold" font-size="12.3" fill="#111">(e) NC405</text>
<text x="220.2" y="265.6" font-family="Liberation Serif, serif" font-weight="bold" font-size="12.3" fill="#111">(f) NC407</text>
<g font-family="Liberation Sans, sans-serif" font-weight="bold" font-size="9.2" fill="#111" text-anchor="middle">
<text x="28.3" y="384.2">300</text>
<text x="86.72" y="384.2">350</text>
<text x="145.14" y="384.2">400</text>
<text x="203.56" y="384.2">450</text>
<text x="261.98" y="384.2">500</text>
<text x="320.4" y="384.2">550</text>
</g>
<text x="173.6" y="401.8" font-family="Liberation Sans, sans-serif" font-weight="bold" font-size="11.2" fill="#111" text-anchor="middle">Wavelength (nm)</text>
<text transform="translate(10.9,184.3) rotate(-90)" font-family="Liberation Sans, sans-serif" font-weight="bold" font-size="11.6" fill="#111" text-anchor="middle">Absorption (a.u.)</text>
<text transform="translate(345.8,190.1) rotate(-90)" font-family="Liberation Sans, sans-serif" font-weight="bold" font-size="11.6" fill="#111" text-anchor="middle">Intensity(a.u.)</text>
</svg>
</body></html>
